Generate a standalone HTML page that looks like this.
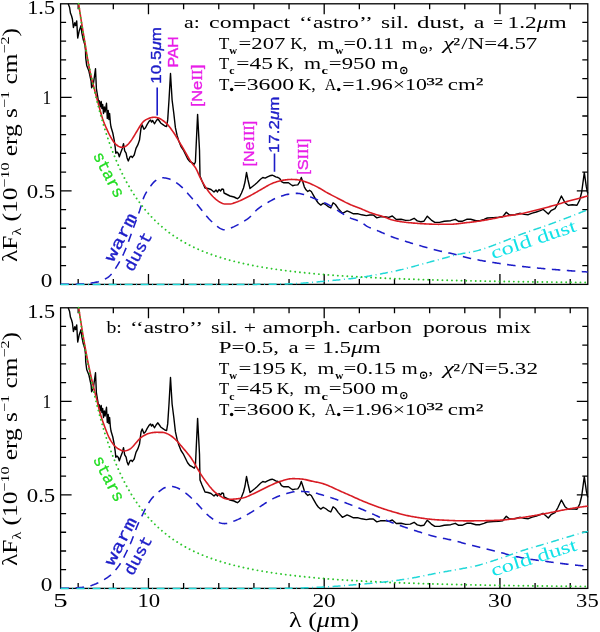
<!DOCTYPE html>
<html><head><meta charset="utf-8"><style>html,body{margin:0;padding:0;background:#fff;overflow:hidden}svg{display:block;will-change:transform}</style></head>
<body><svg width="600" height="632" viewBox="0 0 600 632">
<rect width="600" height="632" fill="#fff"/>
<rect x="60.6" y="3.8" width="527.20" height="280.60" fill="none" stroke="#000" stroke-width="1.3"/>
<path d="M78.17,284.4V278.9M78.17,3.8V9.3M113.32,284.4V278.9M113.32,3.8V9.3M148.47,284.4V273.9M148.47,3.8V14.3M183.61,284.4V278.9M183.61,3.8V9.3M218.76,284.4V278.9M218.76,3.8V9.3M253.91,284.4V278.9M253.91,3.8V9.3M289.05,284.4V278.9M289.05,3.8V9.3M324.20,284.4V273.9M324.20,3.8V14.3M359.35,284.4V278.9M359.35,3.8V9.3M394.49,284.4V278.9M394.49,3.8V9.3M429.64,284.4V278.9M429.64,3.8V9.3M464.79,284.4V278.9M464.79,3.8V9.3M499.93,284.4V273.9M499.93,3.8V14.3M535.08,284.4V278.9M535.08,3.8V9.3M570.23,284.4V278.9M570.23,3.8V9.3M60.6,265.69H66.1M587.8,265.69H582.3M60.6,246.98H66.1M587.8,246.98H582.3M60.6,228.27H66.1M587.8,228.27H582.3M60.6,209.56H66.1M587.8,209.56H582.3M60.6,190.85H71.6M587.8,190.85H576.8M60.6,172.14H66.1M587.8,172.14H582.3M60.6,153.43H66.1M587.8,153.43H582.3M60.6,134.72H66.1M587.8,134.72H582.3M60.6,116.01H66.1M587.8,116.01H582.3M60.6,97.30H71.6M587.8,97.30H576.8M60.6,78.59H66.1M587.8,78.59H582.3M60.6,59.88H66.1M587.8,59.88H582.3M60.6,41.17H66.1M587.8,41.17H582.3M60.6,22.46H66.1M587.8,22.46H582.3" stroke="#000" stroke-width="1.3" fill="none"/>
<rect x="60.6" y="307.8" width="527.20" height="280.60" fill="none" stroke="#000" stroke-width="1.3"/>
<path d="M78.17,588.4V582.9M78.17,307.8V313.3M113.32,588.4V582.9M113.32,307.8V313.3M148.47,588.4V577.9M148.47,307.8V318.3M183.61,588.4V582.9M183.61,307.8V313.3M218.76,588.4V582.9M218.76,307.8V313.3M253.91,588.4V582.9M253.91,307.8V313.3M289.05,588.4V582.9M289.05,307.8V313.3M324.20,588.4V577.9M324.20,307.8V318.3M359.35,588.4V582.9M359.35,307.8V313.3M394.49,588.4V582.9M394.49,307.8V313.3M429.64,588.4V582.9M429.64,307.8V313.3M464.79,588.4V582.9M464.79,307.8V313.3M499.93,588.4V577.9M499.93,307.8V318.3M535.08,588.4V582.9M535.08,307.8V313.3M570.23,588.4V582.9M570.23,307.8V313.3M60.6,569.69H66.1M587.8,569.69H582.3M60.6,550.98H66.1M587.8,550.98H582.3M60.6,532.27H66.1M587.8,532.27H582.3M60.6,513.56H66.1M587.8,513.56H582.3M60.6,494.85H71.6M587.8,494.85H576.8M60.6,476.14H66.1M587.8,476.14H582.3M60.6,457.43H66.1M587.8,457.43H582.3M60.6,438.72H66.1M587.8,438.72H582.3M60.6,420.01H66.1M587.8,420.01H582.3M60.6,401.30H71.6M587.8,401.30H576.8M60.6,382.59H66.1M587.8,382.59H582.3M60.6,363.88H66.1M587.8,363.88H582.3M60.6,345.17H66.1M587.8,345.17H582.3M60.6,326.46H66.1M587.8,326.46H582.3" stroke="#000" stroke-width="1.3" fill="none"/>
<path d="M68.20,3.80 L69.60,7.60 L70.50,13.30 L71.50,15.70 L72.40,19.00 L73.40,27.50 L74.80,22.80 L75.60,25.50 L76.70,20.90 L77.70,38.00 L79.10,31.30 L81.00,25.60 L81.90,33.20 L83.30,39.80 L84.80,44.60 L85.50,50.00 L85.70,57.70 L86.70,65.50 L88.90,71.00 L91.10,81.00 L91.60,87.70 L93.30,84.30 L95.50,68.80 L96.40,88.80 L97.70,96.50 L98.60,102.10 L99.40,100.80 L100.30,106.90 L101.20,101.50 L101.90,108.50 L102.70,104.50 L103.50,113.50 L104.30,107.00 L105.10,112.00 L106.50,103.30 L107.30,118.50 L108.20,110.50 L108.90,119.50 L109.60,113.50 L110.40,123.00 L111.00,127.00 L112.80,133.00 L114.20,140.10 L115.20,147.30 L115.80,153.20 L117.00,152.00 L118.20,153.20 L119.30,156.80 L120.50,153.20 L122.30,148.40 L123.50,143.70 L124.70,150.80 L126.10,153.20 L127.10,158.00 L128.30,160.90 L130.00,156.80 L131.20,156.20 L132.40,157.40 L134.20,155.00 L136.00,148.40 L137.80,144.90 L139.50,140.10 L140.70,130.60 L141.10,127.70 L142.20,124.90 L143.90,129.30 L145.50,127.70 L147.20,124.40 L148.90,121.60 L150.50,119.90 L151.60,122.10 L152.70,120.50 L154.40,123.80 L156.10,121.00 L157.70,118.80 L159.40,121.00 L161.00,123.30 L163.30,124.90 L164.90,126.00 L166.60,126.60 L167.70,119.90 L169.00,100.00 L170.50,73.50 L172.10,100.00 L173.80,113.30 L175.40,127.70 L177.10,135.40 L178.80,141.00 L181.00,146.50 L183.20,149.80 L185.40,154.30 L187.60,158.70 L189.80,161.50 L192.00,162.60 L194.30,164.20 L195.40,162.00 L197.60,114.40 L199.50,150.00 L200.00,176.00 L202.00,181.00 L205.00,188.00 L208.00,188.50 L211.00,189.50 L214.00,192.00 L216.00,190.00 L217.50,192.00 L219.00,189.50 L220.50,191.00 L222.00,189.00 L223.50,189.50 L224.00,193.00 L227.00,194.50 L230.00,196.00 L232.00,196.50 L234.00,197.00 L236.00,198.00 L237.50,198.70 L239.50,197.00 L241.50,193.00 L243.50,188.00 L245.00,182.00 L246.50,172.50 L248.00,180.00 L250.00,188.50 L252.50,186.50 L255.00,184.50 L257.00,182.80 L260.50,179.30 L262.80,177.50 L265.20,178.10 L267.50,176.90 L269.80,175.80 L272.20,175.20 L273.90,175.80 L275.70,176.90 L278.00,177.50 L279.80,178.70 L281.50,181.60 L283.80,182.80 L286.20,182.80 L288.50,182.80 L290.80,184.50 L292.60,185.70 L294.90,185.10 L297.80,184.90 L299.60,182.20 L301.30,177.50 L303.10,182.80 L304.30,186.80 L306.00,189.80 L307.80,191.50 L309.50,190.30 L311.30,191.50 L313.60,195.60 L315.90,199.70 L316.80,201.00 L318.50,203.30 L320.80,205.10 L323.20,203.30 L325.50,204.50 L327.80,206.30 L330.80,208.00 L333.10,202.80 L335.40,204.50 L338.30,208.60 L342.40,213.30 L344.80,212.10 L347.10,210.90 L350.00,212.10 L353.50,213.80 L358.20,213.80 L361.70,214.80 L366.30,215.60 L369.80,215.00 L373.30,215.00 L376.80,217.90 L380.30,216.80 L384.70,216.60 L388.80,217.40 L392.30,216.00 L396.30,219.50 L401.00,219.30 L405.70,220.40 L410.30,220.10 L414.10,218.30 L417.30,220.90 L420.80,221.80 L423.80,221.30 L427.30,216.20 L431.30,220.10 L434.80,222.40 L439.50,222.40 L444.20,221.30 L450.70,220.70 L455.30,219.30 L458.70,221.30 L462.00,221.30 L466.70,219.30 L470.70,219.30 L476.00,220.70 L480.00,220.70 L484.00,219.30 L487.30,218.00 L493.30,217.60 L498.70,217.30 L502.70,216.70 L506.30,212.30 L509.30,214.90 L514.70,214.70 L520.30,213.30 L524.30,214.40 L528.30,214.70 L532.30,213.10 L536.30,212.00 L540.30,210.70 L543.00,209.30 L548.30,214.00 L551.00,210.70 L555.00,208.70 L557.70,204.00 L561.40,196.00 L565.00,202.70 L568.30,205.30 L572.30,204.70 L577.00,205.30 L579.70,200.00 L581.70,192.00 L584.30,172.70 L586.30,186.70 L587.70,193.30" fill="none" stroke="#000" stroke-width="1.4" stroke-linejoin="round"/>
<path d="M78.65,3.80 L79.60,10.24 L80.60,16.73 L81.60,22.91 L82.60,28.98 L83.60,34.99 L84.60,40.94 L85.60,47.00 L86.60,53.21 L87.60,59.24 L88.60,64.76 L89.60,69.71 L90.60,74.23 L91.60,78.42 L92.60,82.38 L93.60,86.21 L94.60,89.94 L95.60,93.61 L96.60,97.31 L97.60,101.05 L98.60,104.79 L99.60,108.46 L100.60,112.02 L101.60,115.45 L102.60,118.65 L103.60,121.53 L104.60,124.10 L105.60,126.45 L106.60,128.69 L107.60,130.87 L108.60,132.98 L109.60,135.00 L110.60,136.89 L111.60,138.66 L112.60,140.28 L113.60,141.72 L114.60,142.98 L115.60,144.07 L116.60,145.00 L117.60,145.76 L118.60,146.37 L119.60,146.85 L120.60,147.15 L121.60,147.25 L122.60,147.22 L123.60,147.07 L124.60,146.78 L125.60,146.28 L126.60,145.57 L127.60,144.70 L128.60,143.71 L129.60,142.57 L130.60,141.26 L131.60,139.84 L132.60,138.34 L133.60,136.77 L134.60,135.13 L135.60,133.43 L136.60,131.73 L137.60,130.06 L138.60,128.41 L139.60,126.77 L140.60,125.16 L141.60,123.69 L142.60,122.44 L143.60,121.42 L144.60,120.59 L145.60,119.92 L146.60,119.36 L147.60,118.89 L148.60,118.47 L149.60,118.12 L150.60,117.82 L151.60,117.58 L152.60,117.39 L153.60,117.27 L154.60,117.24 L155.60,117.33 L156.60,117.50 L157.60,117.74 L158.60,118.08 L159.60,118.52 L160.60,119.06 L161.60,119.66 L162.60,120.31 L163.60,121.01 L164.60,121.77 L165.60,122.61 L166.60,123.54 L167.60,124.58 L168.60,125.75 L169.60,127.01 L170.60,128.32 L171.60,129.68 L172.60,131.09 L173.60,132.55 L174.60,134.06 L175.60,135.63 L176.60,137.25 L177.60,138.92 L178.60,140.62 L179.60,142.33 L180.60,144.04 L181.60,145.74 L182.60,147.46 L183.60,149.19 L184.60,150.94 L185.60,152.71 L186.60,154.49 L187.60,156.24 L188.60,157.93 L189.60,159.56 L190.60,161.14 L191.60,162.63 L192.60,164.00 L193.60,165.23 L194.60,166.44 L195.60,167.91 L196.60,169.77 L197.60,171.95 L198.60,174.23 L199.60,176.42 L200.60,178.45 L201.60,180.34 L202.60,182.15 L203.60,183.89 L204.60,185.56 L205.60,187.15 L206.60,188.67 L207.60,190.13 L208.60,191.51 L209.60,192.80 L210.60,194.00 L211.60,195.14 L212.60,196.20 L213.60,197.21 L214.60,198.15 L215.60,199.05 L216.60,199.90 L217.60,200.71 L218.60,201.43 L219.60,202.05 L220.60,202.58 L221.60,203.05 L222.60,203.45 L223.60,203.75 L224.60,203.95 L225.60,204.04 L226.60,204.07 L227.60,204.07 L228.60,204.06 L229.60,204.03 L230.60,203.93 L231.60,203.75 L232.60,203.47 L233.60,203.13 L234.60,202.77 L235.60,202.42 L236.60,202.06 L237.60,201.69 L238.60,201.29 L239.60,200.88 L240.60,200.44 L241.60,199.98 L242.60,199.50 L243.60,199.01 L244.60,198.51 L245.60,198.02 L246.60,197.52 L247.60,197.02 L248.60,196.51 L249.60,195.99 L250.60,195.46 L251.60,194.92 L252.60,194.37 L253.60,193.81 L254.60,193.24 L255.60,192.66 L256.60,192.07 L257.60,191.48 L258.60,190.90 L259.60,190.32 L260.60,189.75 L261.60,189.19 L262.60,188.62 L263.60,188.05 L264.60,187.46 L265.60,186.88 L266.60,186.29 L267.60,185.72 L268.60,185.16 L269.60,184.62 L270.60,184.12 L271.60,183.65 L272.60,183.23 L273.60,182.85 L274.60,182.50 L275.60,182.17 L276.60,181.85 L277.60,181.55 L278.60,181.27 L279.60,181.01 L280.60,180.76 L281.60,180.54 L282.60,180.34 L283.60,180.16 L284.60,180.01 L285.60,179.87 L286.60,179.74 L287.60,179.63 L288.60,179.54 L289.60,179.47 L290.60,179.43 L291.60,179.42 L292.60,179.44 L293.60,179.47 L294.60,179.52 L295.60,179.58 L296.60,179.66 L297.60,179.77 L298.60,179.92 L299.60,180.11 L300.60,180.34 L301.60,180.60 L302.60,180.89 L303.60,181.20 L304.60,181.53 L305.60,181.88 L306.60,182.23 L307.60,182.60 L308.60,182.97 L309.60,183.35 L310.60,183.76 L311.60,184.20 L312.60,184.65 L313.60,185.12 L314.60,185.61 L315.60,186.11 L316.60,186.63 L317.60,187.15 L318.60,187.67 L319.60,188.21 L320.60,188.77 L321.60,189.36 L322.60,189.97 L323.60,190.60 L324.60,191.23 L325.60,191.85 L326.60,192.43 L327.60,192.99 L328.60,193.53 L329.60,194.06 L330.60,194.58 L331.60,195.10 L332.60,195.61 L333.60,196.12 L334.60,196.64 L335.60,197.15 L336.60,197.66 L337.60,198.18 L338.60,198.70 L339.60,199.22 L340.60,199.75 L341.60,200.27 L342.60,200.80 L343.60,201.32 L344.60,201.84 L345.60,202.35 L346.60,202.85 L347.60,203.34 L348.60,203.81 L349.60,204.26 L350.60,204.70 L351.60,205.12 L352.60,205.52 L353.60,205.91 L354.60,206.29 L355.60,206.67 L356.60,207.04 L357.60,207.42 L358.60,207.80 L359.60,208.19 L360.60,208.59 L361.60,209.01 L362.60,209.44 L363.60,209.88 L364.60,210.32 L365.60,210.76 L366.60,211.19 L367.60,211.60 L368.60,212.01 L369.60,212.39 L370.60,212.76 L371.60,213.12 L372.60,213.46 L373.60,213.79 L374.60,214.10 L375.60,214.40 L376.60,214.69 L377.60,214.97 L378.60,215.25 L379.60,215.53 L380.60,215.81 L381.60,216.10 L382.60,216.40 L383.60,216.71 L384.60,217.04 L385.60,217.40 L386.60,217.80 L387.60,218.22 L388.60,218.65 L389.60,219.06 L390.60,219.43 L391.60,219.76 L392.60,220.03 L393.60,220.29 L394.60,220.52 L395.60,220.74 L396.60,220.94 L397.60,221.14 L398.60,221.32 L399.60,221.49 L400.60,221.65 L401.60,221.80 L402.60,221.94 L403.60,222.07 L404.60,222.20 L405.60,222.32 L406.60,222.43 L407.60,222.53 L408.60,222.64 L409.60,222.73 L410.60,222.82 L411.60,222.91 L412.60,222.99 L413.60,223.08 L414.60,223.15 L415.60,223.23 L416.60,223.31 L417.60,223.38 L418.60,223.46 L419.60,223.53 L420.60,223.60 L421.60,223.66 L422.60,223.73 L423.60,223.79 L424.60,223.84 L425.60,223.90 L426.60,223.95 L427.60,223.99 L428.60,224.04 L429.60,224.09 L430.60,224.13 L431.60,224.17 L432.60,224.21 L433.60,224.25 L434.60,224.28 L435.60,224.30 L436.60,224.31 L437.60,224.32 L438.60,224.33 L439.60,224.32 L440.60,224.32 L441.60,224.32 L442.60,224.31 L443.60,224.31 L444.60,224.30 L445.60,224.29 L446.60,224.29 L447.60,224.28 L448.60,224.28 L449.60,224.27 L450.60,224.26 L451.60,224.23 L452.60,224.18 L453.60,224.12 L454.60,224.04 L455.60,223.95 L456.60,223.85 L457.60,223.73 L458.60,223.62 L459.60,223.49 L460.60,223.36 L461.60,223.24 L462.60,223.11 L463.60,222.99 L464.60,222.87 L465.60,222.75 L466.60,222.65 L467.60,222.54 L468.60,222.44 L469.60,222.33 L470.60,222.22 L471.60,222.11 L472.60,221.99 L473.60,221.86 L474.60,221.74 L475.60,221.60 L476.60,221.46 L477.60,221.32 L478.60,221.18 L479.60,221.03 L480.60,220.87 L481.60,220.71 L482.60,220.55 L483.60,220.38 L484.60,220.21 L485.60,220.03 L486.60,219.85 L487.60,219.67 L488.60,219.49 L489.60,219.30 L490.60,219.12 L491.60,218.93 L492.60,218.74 L493.60,218.55 L494.60,218.36 L495.60,218.16 L496.60,217.95 L497.60,217.75 L498.60,217.54 L499.60,217.34 L500.60,217.13 L501.60,216.92 L502.60,216.72 L503.60,216.53 L504.60,216.34 L505.60,216.15 L506.60,215.98 L507.60,215.81 L508.60,215.66 L509.60,215.51 L510.60,215.37 L511.60,215.23 L512.60,215.09 L513.60,214.96 L514.60,214.82 L515.60,214.68 L516.60,214.54 L517.60,214.38 L518.60,214.22 L519.60,214.05 L520.60,213.86 L521.60,213.65 L522.60,213.42 L523.60,213.17 L524.60,212.92 L525.60,212.67 L526.60,212.41 L527.60,212.16 L528.60,211.91 L529.60,211.67 L530.60,211.43 L531.60,211.19 L532.60,210.95 L533.60,210.71 L534.60,210.47 L535.60,210.22 L536.60,209.98 L537.60,209.74 L538.60,209.49 L539.60,209.24 L540.60,208.99 L541.60,208.74 L542.60,208.48 L543.60,208.22 L544.60,207.96 L545.60,207.70 L546.60,207.44 L547.60,207.17 L548.60,206.90 L549.60,206.63 L550.60,206.36 L551.60,206.08 L552.60,205.81 L553.60,205.53 L554.60,205.24 L555.60,204.96 L556.60,204.67 L557.60,204.37 L558.60,204.07 L559.60,203.76 L560.60,203.46 L561.60,203.15 L562.60,202.84 L563.60,202.54 L564.60,202.24 L565.60,201.94 L566.60,201.64 L567.60,201.36 L568.60,201.08 L569.60,200.80 L570.60,200.53 L571.60,200.27 L572.60,200.01 L573.60,199.75 L574.60,199.50 L575.60,199.24 L576.60,198.99 L577.60,198.73 L578.60,198.47 L579.60,198.21 L580.60,197.94 L581.60,197.67 L582.60,197.39 L583.60,197.11 L584.60,196.82 L585.60,196.54 L586.60,196.27 L587.60,196.05 L587.80,195.94" fill="none" stroke="#d81c24" stroke-width="1.6"/>
<path d="M60.60,284.30 L61.60,284.30 L62.60,284.30 L63.60,284.29 L64.60,284.29 L65.60,284.28 L66.60,284.28 L67.60,284.27 L68.60,284.26 L69.60,284.25 L70.60,284.24 L71.60,284.23 L72.60,284.22 L73.60,284.21 L74.60,284.19 L75.60,284.18 L76.60,284.16 L77.60,284.14 L78.60,284.12 L79.60,284.10 L80.60,284.07 L81.60,284.04 L82.60,283.99 L83.60,283.92 L84.60,283.85 L85.60,283.76 L86.60,283.66 L87.60,283.55 L88.60,283.43 L89.60,283.30 L90.60,283.16 L91.60,283.01 L92.60,282.85 L93.60,282.69 L94.60,282.51 L95.60,282.33 L96.60,282.13 L97.60,281.91 L98.60,281.66 L99.60,281.36 L100.60,281.03 L101.60,280.65 L102.60,280.24 L103.60,279.80 L104.60,279.31 L105.60,278.79 L106.60,278.21 L107.60,277.56 L108.60,276.82 L109.60,275.99 L110.60,275.05 L111.60,273.98 L112.60,272.74 L113.60,271.36 L114.60,269.87 L115.60,268.30 L116.60,266.69 L117.60,265.04 L118.60,263.35 L119.60,261.59 L120.60,259.76 L121.60,257.85 L122.60,255.85 L123.60,253.74 L124.60,251.50 L125.60,249.13 L126.60,246.64 L127.60,244.04 L128.60,241.36 L129.60,238.60 L130.60,235.79 L131.60,232.95 L132.60,230.10 L133.60,227.28 L134.60,224.49 L135.60,221.75 L136.60,219.05 L137.60,216.38 L138.60,213.66 L139.60,210.74 L140.60,207.50 L141.60,204.06 L142.60,200.73 L143.60,197.84 L144.60,195.49 L145.60,193.54 L146.60,191.85 L147.60,190.30 L148.60,188.84 L149.60,187.45 L150.60,186.09 L151.60,184.77 L152.60,183.53 L153.60,182.40 L154.60,181.43 L155.60,180.61 L156.60,179.90 L157.60,179.29 L158.60,178.76 L159.60,178.32 L160.60,177.99 L161.60,177.80 L162.60,177.74 L163.60,177.80 L164.60,177.92 L165.60,178.08 L166.60,178.28 L167.60,178.50 L168.60,178.76 L169.60,179.07 L170.60,179.44 L171.60,179.88 L172.60,180.38 L173.60,180.95 L174.60,181.57 L175.60,182.23 L176.60,182.94 L177.60,183.67 L178.60,184.43 L179.60,185.22 L180.60,186.06 L181.60,186.94 L182.60,187.89 L183.60,188.89 L184.60,189.94 L185.60,191.03 L186.60,192.14 L187.60,193.27 L188.60,194.41 L189.60,195.55 L190.60,196.70 L191.60,197.85 L192.60,199.03 L193.60,200.22 L194.60,201.42 L195.60,202.64 L196.60,203.86 L197.60,205.08 L198.60,206.30 L199.60,207.52 L200.60,208.74 L201.60,209.98 L202.60,211.22 L203.60,212.47 L204.60,213.72 L205.60,214.95 L206.60,216.16 L207.60,217.33 L208.60,218.45 L209.60,219.52 L210.60,220.53 L211.60,221.49 L212.60,222.41 L213.60,223.30 L214.60,224.17 L215.60,225.03 L216.60,225.87 L217.60,226.68 L218.60,227.42 L219.60,228.06 L220.60,228.60 L221.60,229.05 L222.60,229.41 L223.60,229.67 L224.60,229.79 L225.60,229.77 L226.60,229.60 L227.60,229.32 L228.60,228.96 L229.60,228.57 L230.60,228.16 L231.60,227.74 L232.60,227.31 L233.60,226.87 L234.60,226.40 L235.60,225.91 L236.60,225.41 L237.60,224.89 L238.60,224.35 L239.60,223.81 L240.60,223.25 L241.60,222.68 L242.60,222.10 L243.60,221.49 L244.60,220.87 L245.60,220.22 L246.60,219.53 L247.60,218.82 L248.60,218.06 L249.60,217.24 L250.60,216.33 L251.60,215.34 L252.60,214.26 L253.60,213.14 L254.60,212.02 L255.60,210.96 L256.60,209.98 L257.60,209.10 L258.60,208.29 L259.60,207.54 L260.60,206.83 L261.60,206.16 L262.60,205.51 L263.60,204.89 L264.60,204.29 L265.60,203.70 L266.60,203.12 L267.60,202.55 L268.60,201.98 L269.60,201.42 L270.60,200.86 L271.60,200.31 L272.60,199.78 L273.60,199.26 L274.60,198.77 L275.60,198.29 L276.60,197.85 L277.60,197.43 L278.60,197.04 L279.60,196.68 L280.60,196.34 L281.60,196.01 L282.60,195.70 L283.60,195.40 L284.60,195.11 L285.60,194.85 L286.60,194.60 L287.60,194.37 L288.60,194.17 L289.60,194.00 L290.60,193.85 L291.60,193.71 L292.60,193.60 L293.60,193.50 L294.60,193.42 L295.60,193.37 L296.60,193.36 L297.60,193.39 L298.60,193.47 L299.60,193.60 L300.60,193.76 L301.60,193.94 L302.60,194.16 L303.60,194.41 L304.60,194.69 L305.60,195.02 L306.60,195.38 L307.60,195.76 L308.60,196.15 L309.60,196.55 L310.60,196.96 L311.60,197.38 L312.60,197.80 L313.60,198.23 L314.60,198.66 L315.60,199.07 L316.60,199.48 L317.60,199.88 L318.60,200.28 L319.60,200.69 L320.60,201.10 L321.60,201.52 L322.60,201.95 L323.60,202.39 L324.60,202.84 L325.60,203.30 L326.60,203.77 L327.60,204.26 L328.60,204.77 L329.60,205.31 L330.60,205.87 L331.60,206.47 L332.60,207.10 L333.60,207.75 L334.60,208.42 L335.60,209.10 L336.60,209.77 L337.60,210.43 L338.60,211.08 L339.60,211.73 L340.60,212.38 L341.60,213.02 L342.60,213.67 L343.60,214.30 L344.60,214.92 L345.60,215.53 L346.60,216.11 L347.60,216.67 L348.60,217.19 L349.60,217.67 L350.60,218.11 L351.60,218.51 L352.60,218.87 L353.60,219.21 L354.60,219.53 L355.60,219.86 L356.60,220.19 L357.60,220.55 L358.60,220.95 L359.60,221.40 L360.60,221.93 L361.60,222.55 L362.60,223.24 L363.60,223.98 L364.60,224.72 L365.60,225.43 L366.60,226.08 L367.60,226.65 L368.60,227.15 L369.60,227.58 L370.60,227.98 L371.60,228.35 L372.60,228.72 L373.60,229.09 L374.60,229.46 L375.60,229.86 L376.60,230.27 L377.60,230.68 L378.60,231.11 L379.60,231.54 L380.60,231.98 L381.60,232.42 L382.60,232.86 L383.60,233.30 L384.60,233.74 L385.60,234.17 L386.60,234.61 L387.60,235.03 L388.60,235.45 L389.60,235.86 L390.60,236.27 L391.60,236.66 L392.60,237.04 L393.60,237.41 L394.60,237.77 L395.60,238.12 L396.60,238.46 L397.60,238.80 L398.60,239.14 L399.60,239.46 L400.60,239.79 L401.60,240.11 L402.60,240.42 L403.60,240.74 L404.60,241.05 L405.60,241.36 L406.60,241.67 L407.60,241.98 L408.60,242.29 L409.60,242.60 L410.60,242.90 L411.60,243.21 L412.60,243.50 L413.60,243.80 L414.60,244.10 L415.60,244.39 L416.60,244.69 L417.60,244.98 L418.60,245.27 L419.60,245.55 L420.60,245.84 L421.60,246.13 L422.60,246.42 L423.60,246.70 L424.60,246.99 L425.60,247.28 L426.60,247.56 L427.60,247.85 L428.60,248.13 L429.60,248.41 L430.60,248.68 L431.60,248.96 L432.60,249.22 L433.60,249.49 L434.60,249.74 L435.60,249.99 L436.60,250.24 L437.60,250.48 L438.60,250.71 L439.60,250.93 L440.60,251.15 L441.60,251.37 L442.60,251.59 L443.60,251.80 L444.60,252.01 L445.60,252.23 L446.60,252.44 L447.60,252.66 L448.60,252.89 L449.60,253.11 L450.60,253.35 L451.60,253.59 L452.60,253.83 L453.60,254.08 L454.60,254.33 L455.60,254.59 L456.60,254.85 L457.60,255.11 L458.60,255.37 L459.60,255.63 L460.60,255.90 L461.60,256.16 L462.60,256.42 L463.60,256.68 L464.60,256.94 L465.60,257.20 L466.60,257.45 L467.60,257.70 L468.60,257.94 L469.60,258.18 L470.60,258.41 L471.60,258.64 L472.60,258.86 L473.60,259.07 L474.60,259.27 L475.60,259.47 L476.60,259.67 L477.60,259.86 L478.60,260.05 L479.60,260.24 L480.60,260.42 L481.60,260.60 L482.60,260.78 L483.60,260.95 L484.60,261.13 L485.60,261.30 L486.60,261.47 L487.60,261.63 L488.60,261.80 L489.60,261.96 L490.60,262.12 L491.60,262.28 L492.60,262.43 L493.60,262.59 L494.60,262.74 L495.60,262.89 L496.60,263.04 L497.60,263.19 L498.60,263.34 L499.60,263.49 L500.60,263.64 L501.60,263.78 L502.60,263.93 L503.60,264.07 L504.60,264.21 L505.60,264.35 L506.60,264.49 L507.60,264.63 L508.60,264.76 L509.60,264.90 L510.60,265.03 L511.60,265.16 L512.60,265.29 L513.60,265.42 L514.60,265.55 L515.60,265.68 L516.60,265.80 L517.60,265.92 L518.60,266.04 L519.60,266.16 L520.60,266.28 L521.60,266.40 L522.60,266.51 L523.60,266.62 L524.60,266.73 L525.60,266.84 L526.60,266.95 L527.60,267.06 L528.60,267.16 L529.60,267.27 L530.60,267.37 L531.60,267.48 L532.60,267.58 L533.60,267.68 L534.60,267.78 L535.60,267.87 L536.60,267.97 L537.60,268.07 L538.60,268.16 L539.60,268.26 L540.60,268.35 L541.60,268.44 L542.60,268.53 L543.60,268.62 L544.60,268.71 L545.60,268.80 L546.60,268.89 L547.60,268.98 L548.60,269.06 L549.60,269.15 L550.60,269.23 L551.60,269.32 L552.60,269.40 L553.60,269.48 L554.60,269.56 L555.60,269.64 L556.60,269.72 L557.60,269.80 L558.60,269.88 L559.60,269.96 L560.60,270.03 L561.60,270.11 L562.60,270.19 L563.60,270.26 L564.60,270.34 L565.60,270.41 L566.60,270.49 L567.60,270.56 L568.60,270.64 L569.60,270.71 L570.60,270.78 L571.60,270.86 L572.60,270.93 L573.60,271.01 L574.60,271.08 L575.60,271.15 L576.60,271.22 L577.60,271.30 L578.60,271.37 L579.60,271.44 L580.60,271.51 L581.60,271.58 L582.60,271.65 L583.60,271.72 L584.60,271.79 L585.60,271.85 L586.60,271.91 L587.60,271.96 L587.80,271.99" fill="none" stroke="#1c1cc8" stroke-width="1.55" stroke-dasharray="8.5 6.5"/>
<path d="M78.60,3.80 L78.60,3.83 L79.60,10.69 L80.60,17.33 L81.60,23.76 L82.60,29.99 L83.60,36.02 L84.60,41.86 L85.60,47.53 L86.60,53.02 L87.60,58.34 L88.60,63.50 L89.60,68.51 L90.60,73.37 L91.60,78.08 L92.60,82.66 L93.60,87.10 L94.60,91.41 L95.60,95.60 L96.60,99.67 L97.60,103.63 L98.60,107.47 L99.60,111.21 L100.60,114.84 L101.60,118.37 L102.60,121.80 L103.60,125.15 L104.60,128.40 L105.60,131.56 L106.60,134.64 L107.60,137.63 L108.60,140.55 L109.60,143.39 L110.60,146.16 L111.60,148.86 L112.60,151.48 L113.60,154.04 L114.60,156.54 L115.60,158.97 L116.60,161.34 L117.60,163.65 L118.60,165.90 L119.60,168.10 L120.60,170.25 L121.60,172.34 L122.60,174.38 L123.60,176.37 L124.60,178.32 L125.60,180.22 L126.60,182.07 L127.60,183.88 L128.60,185.65 L129.60,187.38 L130.60,189.06 L131.60,190.71 L132.60,192.32 L133.60,193.90 L134.60,195.43 L135.60,196.94 L136.60,198.41 L137.60,199.85 L138.60,201.25 L139.60,202.63 L140.60,203.97 L141.60,205.29 L142.60,206.57 L143.60,207.83 L144.60,209.07 L145.60,210.27 L146.60,211.45 L147.60,212.61 L148.60,213.74 L149.60,214.85 L150.60,215.93 L151.60,217.00 L152.60,218.04 L153.60,219.06 L154.60,220.06 L155.60,221.04 L156.60,221.99 L157.60,222.93 L158.60,223.85 L159.60,224.76 L160.60,225.64 L161.60,226.51 L162.60,227.36 L163.60,228.19 L164.60,229.01 L165.60,229.81 L166.60,230.60 L167.60,231.37 L168.60,232.13 L169.60,232.87 L170.60,233.60 L171.60,234.32 L172.60,235.02 L173.60,235.71 L174.60,236.38 L175.60,237.05 L176.60,237.70 L177.60,238.34 L178.60,238.97 L179.60,239.58 L180.60,240.19 L181.60,240.78 L182.60,241.37 L183.60,241.94 L184.60,242.51 L185.60,243.06 L186.60,243.60 L187.60,244.14 L188.60,244.66 L189.60,245.18 L190.60,245.69 L191.60,246.18 L192.60,246.67 L193.60,247.16 L194.60,247.63 L195.60,248.10 L196.60,248.55 L197.60,249.00 L198.60,249.45 L199.60,249.88 L200.60,250.31 L201.60,250.73 L202.60,251.15 L203.60,251.55 L204.60,251.95 L205.60,252.35 L206.60,252.74 L207.60,253.12 L208.60,253.49 L209.60,253.86 L210.60,254.23 L211.60,254.58 L212.60,254.94 L213.60,255.28 L214.60,255.63 L215.60,255.96 L216.60,256.29 L217.60,256.62 L218.60,256.94 L219.60,257.26 L220.60,257.57 L221.60,257.87 L222.60,258.17 L223.60,258.47 L224.60,258.76 L225.60,259.05 L226.60,259.34 L227.60,259.62 L228.60,259.89 L229.60,260.16 L230.60,260.43 L231.60,260.69 L232.60,260.95 L233.60,261.21 L234.60,261.46 L235.60,261.71 L236.60,261.96 L237.60,262.20 L238.60,262.44 L239.60,262.67 L240.60,262.90 L241.60,263.13 L242.60,263.36 L243.60,263.58 L244.60,263.80 L245.60,264.01 L246.60,264.22 L247.60,264.43 L248.60,264.64 L249.60,264.84 L250.60,265.05 L251.60,265.24 L252.60,265.44 L253.60,265.63 L254.60,265.82 L255.60,266.01 L256.60,266.20 L257.60,266.38 L258.60,266.56 L259.60,266.74 L260.60,266.91 L261.60,267.09 L262.60,267.26 L263.60,267.43 L264.60,267.59 L265.60,267.76 L266.60,267.92 L267.60,268.08 L268.60,268.24 L269.60,268.40 L270.60,268.55 L271.60,268.70 L272.60,268.85 L273.60,269.00 L274.60,269.15 L275.60,269.29 L276.60,269.43 L277.60,269.57 L278.60,269.71 L279.60,269.85 L280.60,269.99 L281.60,270.12 L282.60,270.25 L283.60,270.38 L284.60,270.51 L285.60,270.64 L286.60,270.77 L287.60,270.89 L288.60,271.01 L289.60,271.14 L290.60,271.26 L291.60,271.37 L292.60,271.49 L293.60,271.61 L294.60,271.72 L295.60,271.84 L296.60,271.95 L297.60,272.06 L298.60,272.17 L299.60,272.27 L300.60,272.38 L301.60,272.49 L302.60,272.59 L303.60,272.69 L304.60,272.79 L305.60,272.90 L306.60,272.99 L307.60,273.09 L308.60,273.19 L309.60,273.29 L310.60,273.38 L311.60,273.47 L312.60,273.57 L313.60,273.66 L314.60,273.75 L315.60,273.84 L316.60,273.93 L317.60,274.02 L318.60,274.10 L319.60,274.19 L320.60,274.27 L321.60,274.36 L322.60,274.44 L323.60,274.52 L324.60,274.60 L325.60,274.68 L326.60,274.76 L327.60,274.84 L328.60,274.92 L329.60,274.99 L330.60,275.07 L331.60,275.15 L332.60,275.22 L333.60,275.29 L334.60,275.37 L335.60,275.44 L336.60,275.51 L337.60,275.58 L338.60,275.65 L339.60,275.72 L340.60,275.79 L341.60,275.86 L342.60,275.92 L343.60,275.99 L344.60,276.05 L345.60,276.12 L346.60,276.18 L347.60,276.25 L348.60,276.31 L349.60,276.37 L350.60,276.43 L351.60,276.49 L352.60,276.55 L353.60,276.61 L354.60,276.67 L355.60,276.73 L356.60,276.79 L357.60,276.85 L358.60,276.90 L359.60,276.96 L360.60,277.01 L361.60,277.07 L362.60,277.12 L363.60,277.18 L364.60,277.23 L365.60,277.28 L366.60,277.34 L367.60,277.39 L368.60,277.44 L369.60,277.49 L370.60,277.54 L371.60,277.59 L372.60,277.64 L373.60,277.69 L374.60,277.74 L375.60,277.79 L376.60,277.83 L377.60,277.88 L378.60,277.93 L379.60,277.97 L380.60,278.02 L381.60,278.07 L382.60,278.11 L383.60,278.15 L384.60,278.20 L385.60,278.24 L386.60,278.29 L387.60,278.33 L388.60,278.37 L389.60,278.41 L390.60,278.45 L391.60,278.50 L392.60,278.54 L393.60,278.58 L394.60,278.62 L395.60,278.66 L396.60,278.70 L397.60,278.74 L398.60,278.77 L399.60,278.81 L400.60,278.85 L401.60,278.89 L402.60,278.93 L403.60,278.96 L404.60,279.00 L405.60,279.04 L406.60,279.07 L407.60,279.11 L408.60,279.14 L409.60,279.18 L410.60,279.21 L411.60,279.25 L412.60,279.28 L413.60,279.31 L414.60,279.35 L415.60,279.38 L416.60,279.41 L417.60,279.45 L418.60,279.48 L419.60,279.51 L420.60,279.54 L421.60,279.57 L422.60,279.61 L423.60,279.64 L424.60,279.67 L425.60,279.70 L426.60,279.73 L427.60,279.76 L428.60,279.79 L429.60,279.82 L430.60,279.85 L431.60,279.88 L432.60,279.90 L433.60,279.93 L434.60,279.96 L435.60,279.99 L436.60,280.02 L437.60,280.04 L438.60,280.07 L439.60,280.10 L440.60,280.12 L441.60,280.15 L442.60,280.18 L443.60,280.20 L444.60,280.23 L445.60,280.26 L446.60,280.28 L447.60,280.31 L448.60,280.33 L449.60,280.36 L450.60,280.38 L451.60,280.41 L452.60,280.43 L453.60,280.45 L454.60,280.48 L455.60,280.50 L456.60,280.53 L457.60,280.55 L458.60,280.57 L459.60,280.59 L460.60,280.62 L461.60,280.64 L462.60,280.66 L463.60,280.68 L464.60,280.71 L465.60,280.73 L466.60,280.75 L467.60,280.77 L468.60,280.79 L469.60,280.81 L470.60,280.84 L471.60,280.86 L472.60,280.88 L473.60,280.90 L474.60,280.92 L475.60,280.94 L476.60,280.96 L477.60,280.98 L478.60,281.00 L479.60,281.02 L480.60,281.04 L481.60,281.06 L482.60,281.08 L483.60,281.09 L484.60,281.11 L485.60,281.13 L486.60,281.15 L487.60,281.17 L488.60,281.19 L489.60,281.21 L490.60,281.22 L491.60,281.24 L492.60,281.26 L493.60,281.28 L494.60,281.29 L495.60,281.31 L496.60,281.33 L497.60,281.35 L498.60,281.36 L499.60,281.38 L500.60,281.40 L501.60,281.41 L502.60,281.43 L503.60,281.45 L504.60,281.46 L505.60,281.48 L506.60,281.50 L507.60,281.51 L508.60,281.53 L509.60,281.54 L510.60,281.56 L511.60,281.57 L512.60,281.59 L513.60,281.60 L514.60,281.62 L515.60,281.63 L516.60,281.65 L517.60,281.66 L518.60,281.68 L519.60,281.69 L520.60,281.71 L521.60,281.72 L522.60,281.74 L523.60,281.75 L524.60,281.76 L525.60,281.78 L526.60,281.79 L527.60,281.81 L528.60,281.82 L529.60,281.83 L530.60,281.85 L531.60,281.86 L532.60,281.87 L533.60,281.89 L534.60,281.90 L535.60,281.91 L536.60,281.93 L537.60,281.94 L538.60,281.95 L539.60,281.96 L540.60,281.98 L541.60,281.99 L542.60,282.00 L543.60,282.01 L544.60,282.03 L545.60,282.04 L546.60,282.05 L547.60,282.06 L548.60,282.07 L549.60,282.09 L550.60,282.10 L551.60,282.11 L552.60,282.12 L553.60,282.13 L554.60,282.14 L555.60,282.16 L556.60,282.17 L557.60,282.18 L558.60,282.19 L559.60,282.20 L560.60,282.21 L561.60,282.22 L562.60,282.23 L563.60,282.24 L564.60,282.25 L565.60,282.26 L566.60,282.28 L567.60,282.29 L568.60,282.30 L569.60,282.31 L570.60,282.32 L571.60,282.33 L572.60,282.34 L573.60,282.35 L574.60,282.36 L575.60,282.37 L576.60,282.38 L577.60,282.39 L578.60,282.40 L579.60,282.41 L580.60,282.42 L581.60,282.43 L582.60,282.43 L583.60,282.44 L584.60,282.45 L585.60,282.46 L586.60,282.47 L587.60,282.48 L587.80,282.48" fill="none" stroke="#2cc62c" stroke-width="1.9" stroke-dasharray="0.01 4.75" stroke-linecap="round"/>
<path d="M60.60,284.40 L61.60,284.40 L62.60,284.40 L63.60,284.40 L64.60,284.40 L65.60,284.40 L66.60,284.40 L67.60,284.40 L68.60,284.40 L69.60,284.40 L70.60,284.40 L71.60,284.40 L72.60,284.40 L73.60,284.40 L74.60,284.40 L75.60,284.40 L76.60,284.40 L77.60,284.40 L78.60,284.40 L79.60,284.40 L80.60,284.40 L81.60,284.40 L82.60,284.40 L83.60,284.40 L84.60,284.40 L85.60,284.40 L86.60,284.40 L87.60,284.40 L88.60,284.40 L89.60,284.40 L90.60,284.40 L91.60,284.40 L92.60,284.40 L93.60,284.40 L94.60,284.40 L95.60,284.40 L96.60,284.40 L97.60,284.40 L98.60,284.40 L99.60,284.40 L100.60,284.40 L101.60,284.40 L102.60,284.40 L103.60,284.40 L104.60,284.40 L105.60,284.40 L106.60,284.40 L107.60,284.40 L108.60,284.40 L109.60,284.40 L110.60,284.40 L111.60,284.40 L112.60,284.40 L113.60,284.40 L114.60,284.40 L115.60,284.40 L116.60,284.40 L117.60,284.40 L118.60,284.40 L119.60,284.40 L120.60,284.40 L121.60,284.40 L122.60,284.40 L123.60,284.40 L124.60,284.40 L125.60,284.40 L126.60,284.40 L127.60,284.40 L128.60,284.40 L129.60,284.40 L130.60,284.40 L131.60,284.40 L132.60,284.40 L133.60,284.40 L134.60,284.40 L135.60,284.40 L136.60,284.40 L137.60,284.40 L138.60,284.40 L139.60,284.40 L140.60,284.40 L141.60,284.40 L142.60,284.40 L143.60,284.40 L144.60,284.40 L145.60,284.40 L146.60,284.40 L147.60,284.40 L148.60,284.40 L149.60,284.40 L150.60,284.40 L151.60,284.40 L152.60,284.40 L153.60,284.40 L154.60,284.40 L155.60,284.40 L156.60,284.40 L157.60,284.40 L158.60,284.40 L159.60,284.40 L160.60,284.40 L161.60,284.40 L162.60,284.40 L163.60,284.40 L164.60,284.40 L165.60,284.40 L166.60,284.40 L167.60,284.40 L168.60,284.40 L169.60,284.40 L170.60,284.40 L171.60,284.40 L172.60,284.40 L173.60,284.40 L174.60,284.40 L175.60,284.40 L176.60,284.40 L177.60,284.40 L178.60,284.40 L179.60,284.40 L180.60,284.40 L181.60,284.40 L182.60,284.40 L183.60,284.40 L184.60,284.40 L185.60,284.40 L186.60,284.40 L187.60,284.40 L188.60,284.40 L189.60,284.40 L190.60,284.40 L191.60,284.40 L192.60,284.40 L193.60,284.40 L194.60,284.40 L195.60,284.40 L196.60,284.40 L197.60,284.40 L198.60,284.40 L199.60,284.40 L200.60,284.40 L201.60,284.40 L202.60,284.40 L203.60,284.40 L204.60,284.40 L205.60,284.40 L206.60,284.40 L207.60,284.40 L208.60,284.40 L209.60,284.40 L210.60,284.40 L211.60,284.40 L212.60,284.40 L213.60,284.40 L214.60,284.40 L215.60,284.40 L216.60,284.40 L217.60,284.40 L218.60,284.40 L219.60,284.40 L220.60,284.40 L221.60,284.40 L222.60,284.40 L223.60,284.40 L224.60,284.40 L225.60,284.40 L226.60,284.40 L227.60,284.40 L228.60,284.40 L229.60,284.40 L230.60,284.40 L231.60,284.40 L232.60,284.40 L233.60,284.40 L234.60,284.40 L235.60,284.40 L236.60,284.40 L237.60,284.40 L238.60,284.40 L239.60,284.40 L240.60,284.40 L241.60,284.40 L242.60,284.40 L243.60,284.40 L244.60,284.40 L245.60,284.40 L246.60,284.40 L247.60,284.40 L248.60,284.40 L249.60,284.40 L250.60,284.40 L251.60,284.40 L252.60,284.40 L253.60,284.39 L254.60,284.39 L255.60,284.39 L256.60,284.38 L257.60,284.37 L258.60,284.37 L259.60,284.36 L260.60,284.35 L261.60,284.34 L262.60,284.34 L263.60,284.33 L264.60,284.32 L265.60,284.30 L266.60,284.29 L267.60,284.28 L268.60,284.27 L269.60,284.26 L270.60,284.24 L271.60,284.23 L272.60,284.21 L273.60,284.20 L274.60,284.19 L275.60,284.17 L276.60,284.15 L277.60,284.14 L278.60,284.12 L279.60,284.10 L280.60,284.08 L281.60,284.06 L282.60,284.04 L283.60,284.01 L284.60,283.99 L285.60,283.95 L286.60,283.92 L287.60,283.88 L288.60,283.85 L289.60,283.80 L290.60,283.76 L291.60,283.72 L292.60,283.67 L293.60,283.63 L294.60,283.58 L295.60,283.53 L296.60,283.48 L297.60,283.43 L298.60,283.37 L299.60,283.32 L300.60,283.26 L301.60,283.20 L302.60,283.14 L303.60,283.08 L304.60,283.01 L305.60,282.94 L306.60,282.87 L307.60,282.79 L308.60,282.71 L309.60,282.63 L310.60,282.55 L311.60,282.46 L312.60,282.37 L313.60,282.28 L314.60,282.19 L315.60,282.10 L316.60,282.01 L317.60,281.91 L318.60,281.81 L319.60,281.72 L320.60,281.62 L321.60,281.52 L322.60,281.42 L323.60,281.33 L324.60,281.23 L325.60,281.13 L326.60,281.03 L327.60,280.93 L328.60,280.84 L329.60,280.74 L330.60,280.64 L331.60,280.55 L332.60,280.45 L333.60,280.36 L334.60,280.26 L335.60,280.17 L336.60,280.07 L337.60,279.98 L338.60,279.88 L339.60,279.78 L340.60,279.68 L341.60,279.59 L342.60,279.49 L343.60,279.39 L344.60,279.28 L345.60,279.18 L346.60,279.08 L347.60,278.97 L348.60,278.87 L349.60,278.76 L350.60,278.65 L351.60,278.53 L352.60,278.42 L353.60,278.30 L354.60,278.18 L355.60,278.06 L356.60,277.94 L357.60,277.81 L358.60,277.68 L359.60,277.55 L360.60,277.41 L361.60,277.26 L362.60,277.12 L363.60,276.96 L364.60,276.80 L365.60,276.64 L366.60,276.47 L367.60,276.30 L368.60,276.13 L369.60,275.95 L370.60,275.77 L371.60,275.58 L372.60,275.40 L373.60,275.21 L374.60,275.02 L375.60,274.83 L376.60,274.64 L377.60,274.45 L378.60,274.26 L379.60,274.08 L380.60,273.89 L381.60,273.70 L382.60,273.51 L383.60,273.33 L384.60,273.14 L385.60,272.95 L386.60,272.76 L387.60,272.57 L388.60,272.37 L389.60,272.18 L390.60,271.98 L391.60,271.78 L392.60,271.58 L393.60,271.38 L394.60,271.17 L395.60,270.96 L396.60,270.74 L397.60,270.53 L398.60,270.31 L399.60,270.08 L400.60,269.85 L401.60,269.61 L402.60,269.37 L403.60,269.13 L404.60,268.87 L405.60,268.62 L406.60,268.36 L407.60,268.09 L408.60,267.82 L409.60,267.55 L410.60,267.28 L411.60,267.01 L412.60,266.73 L413.60,266.45 L414.60,266.18 L415.60,265.90 L416.60,265.63 L417.60,265.35 L418.60,265.08 L419.60,264.81 L420.60,264.54 L421.60,264.27 L422.60,264.00 L423.60,263.73 L424.60,263.46 L425.60,263.19 L426.60,262.92 L427.60,262.65 L428.60,262.38 L429.60,262.11 L430.60,261.84 L431.60,261.57 L432.60,261.30 L433.60,261.02 L434.60,260.75 L435.60,260.48 L436.60,260.21 L437.60,259.94 L438.60,259.67 L439.60,259.40 L440.60,259.13 L441.60,258.86 L442.60,258.58 L443.60,258.31 L444.60,258.03 L445.60,257.74 L446.60,257.46 L447.60,257.18 L448.60,256.90 L449.60,256.62 L450.60,256.34 L451.60,256.07 L452.60,255.80 L453.60,255.54 L454.60,255.28 L455.60,255.03 L456.60,254.79 L457.60,254.55 L458.60,254.32 L459.60,254.11 L460.60,253.90 L461.60,253.71 L462.60,253.52 L463.60,253.35 L464.60,253.18 L465.60,253.02 L466.60,252.85 L467.60,252.69 L468.60,252.53 L469.60,252.36 L470.60,252.19 L471.60,252.00 L472.60,251.81 L473.60,251.60 L474.60,251.38 L475.60,251.14 L476.60,250.89 L477.60,250.63 L478.60,250.35 L479.60,250.07 L480.60,249.77 L481.60,249.46 L482.60,249.14 L483.60,248.81 L484.60,248.48 L485.60,248.13 L486.60,247.78 L487.60,247.43 L488.60,247.07 L489.60,246.71 L490.60,246.34 L491.60,245.97 L492.60,245.61 L493.60,245.23 L494.60,244.86 L495.60,244.49 L496.60,244.12 L497.60,243.75 L498.60,243.38 L499.60,243.01 L500.60,242.63 L501.60,242.25 L502.60,241.86 L503.60,241.46 L504.60,241.06 L505.60,240.66 L506.60,240.25 L507.60,239.84 L508.60,239.42 L509.60,239.01 L510.60,238.59 L511.60,238.18 L512.60,237.76 L513.60,237.35 L514.60,236.93 L515.60,236.52 L516.60,236.12 L517.60,235.71 L518.60,235.31 L519.60,234.92 L520.60,234.53 L521.60,234.15 L522.60,233.77 L523.60,233.40 L524.60,233.04 L525.60,232.68 L526.60,232.32 L527.60,231.97 L528.60,231.62 L529.60,231.27 L530.60,230.93 L531.60,230.58 L532.60,230.24 L533.60,229.90 L534.60,229.56 L535.60,229.23 L536.60,228.89 L537.60,228.55 L538.60,228.21 L539.60,227.87 L540.60,227.53 L541.60,227.19 L542.60,226.84 L543.60,226.49 L544.60,226.14 L545.60,225.79 L546.60,225.43 L547.60,225.07 L548.60,224.71 L549.60,224.35 L550.60,223.98 L551.60,223.62 L552.60,223.25 L553.60,222.89 L554.60,222.52 L555.60,222.15 L556.60,221.78 L557.60,221.40 L558.60,221.03 L559.60,220.66 L560.60,220.28 L561.60,219.90 L562.60,219.53 L563.60,219.15 L564.60,218.77 L565.60,218.39 L566.60,218.01 L567.60,217.63 L568.60,217.24 L569.60,216.86 L570.60,216.47 L571.60,216.09 L572.60,215.70 L573.60,215.31 L574.60,214.92 L575.60,214.53 L576.60,214.14 L577.60,213.74 L578.60,213.35 L579.60,212.95 L580.60,212.55 L581.60,212.16 L582.60,211.76 L583.60,211.36 L584.60,210.97 L585.60,210.60 L586.60,210.28 L587.60,210.02 L587.80,209.85" fill="none" stroke="#22d8d8" stroke-width="1.5" stroke-dasharray="8 3.5 1 3.5"/>
<path d="M68.20,307.80 L69.60,311.60 L70.50,317.30 L71.50,319.70 L72.40,323.00 L73.40,331.50 L74.80,326.80 L75.60,329.50 L76.70,324.90 L77.70,342.00 L79.10,335.30 L81.00,329.60 L81.90,337.20 L83.30,343.80 L84.80,348.60 L85.50,354.00 L85.70,361.70 L86.70,369.50 L88.90,375.00 L91.10,385.00 L91.60,391.70 L93.30,388.30 L95.50,372.80 L96.40,392.80 L97.70,400.50 L98.60,406.10 L99.40,404.80 L100.30,410.90 L101.20,405.50 L101.90,412.50 L102.70,408.50 L103.50,417.50 L104.30,411.00 L105.10,416.00 L106.50,407.30 L107.30,422.50 L108.20,414.50 L108.90,423.50 L109.60,417.50 L110.40,427.00 L111.00,431.00 L112.80,437.00 L114.20,444.10 L115.20,451.30 L115.80,457.20 L117.00,456.00 L118.20,457.20 L119.30,460.80 L120.50,457.20 L122.30,452.40 L123.50,447.70 L124.70,454.80 L126.10,457.20 L127.10,462.00 L128.30,464.90 L130.00,460.80 L131.20,460.20 L132.40,461.40 L134.20,459.00 L136.00,452.40 L137.80,448.90 L139.50,444.10 L140.70,434.60 L141.10,431.70 L142.20,428.90 L143.90,433.30 L145.50,431.70 L147.20,428.40 L148.90,425.60 L150.50,423.90 L151.60,426.10 L152.70,424.50 L154.40,427.80 L156.10,425.00 L157.70,422.80 L159.40,425.00 L161.00,427.30 L163.30,428.90 L164.90,430.00 L166.60,430.60 L167.70,423.90 L169.00,404.00 L170.50,377.50 L172.10,404.00 L173.80,417.30 L175.40,431.70 L177.10,439.40 L178.80,445.00 L181.00,450.50 L183.20,453.80 L185.40,458.30 L187.60,462.70 L189.80,465.50 L192.00,466.60 L194.30,468.20 L195.40,466.00 L197.60,418.40 L199.50,454.00 L200.00,480.00 L202.00,485.00 L205.00,492.00 L208.00,492.50 L211.00,493.50 L214.00,496.00 L216.00,494.00 L217.50,496.00 L219.00,493.50 L220.50,495.00 L222.00,493.00 L223.50,493.50 L224.00,497.00 L227.00,498.50 L230.00,500.00 L232.00,500.50 L234.00,501.00 L236.00,502.00 L237.50,502.70 L239.50,501.00 L241.50,497.00 L243.50,492.00 L245.00,486.00 L246.50,476.50 L248.00,484.00 L250.00,492.50 L252.50,490.50 L255.00,488.50 L257.00,486.80 L260.50,483.30 L262.80,481.50 L265.20,482.10 L267.50,480.90 L269.80,479.80 L272.20,479.20 L273.90,479.80 L275.70,480.90 L278.00,481.50 L279.80,482.70 L281.50,485.60 L283.80,486.80 L286.20,486.80 L288.50,486.80 L290.80,488.50 L292.60,489.70 L294.90,489.10 L297.80,488.90 L299.60,486.20 L301.30,481.50 L303.10,486.80 L304.30,490.80 L306.00,493.80 L307.80,495.50 L309.50,494.30 L311.30,495.50 L313.60,499.60 L315.90,503.70 L316.80,505.00 L318.50,507.30 L320.80,509.10 L323.20,507.30 L325.50,508.50 L327.80,510.30 L330.80,512.00 L333.10,506.80 L335.40,508.50 L338.30,512.60 L342.40,517.30 L344.80,516.10 L347.10,514.90 L350.00,516.10 L353.50,517.80 L358.20,517.80 L361.70,518.80 L366.30,519.60 L369.80,519.00 L373.30,519.00 L376.80,521.90 L380.30,520.80 L384.70,520.60 L388.80,521.40 L392.30,520.00 L396.30,523.50 L401.00,523.30 L405.70,524.40 L410.30,524.10 L414.10,522.30 L417.30,524.90 L420.80,525.80 L423.80,525.30 L427.30,520.20 L431.30,524.10 L434.80,526.40 L439.50,526.40 L444.20,525.30 L450.70,524.70 L455.30,523.30 L458.70,525.30 L462.00,525.30 L466.70,523.30 L470.70,523.30 L476.00,524.70 L480.00,524.70 L484.00,523.30 L487.30,522.00 L493.30,521.60 L498.70,521.30 L502.70,520.70 L506.30,516.30 L509.30,518.90 L514.70,518.70 L520.30,517.30 L524.30,518.40 L528.30,518.70 L532.30,517.10 L536.30,516.00 L540.30,514.70 L543.00,513.30 L548.30,518.00 L551.00,514.70 L555.00,512.70 L557.70,508.00 L561.40,500.00 L565.00,506.70 L568.30,509.30 L572.30,508.70 L577.00,509.30 L579.70,504.00 L581.70,496.00 L584.30,476.70 L586.30,490.70 L587.70,497.30" fill="none" stroke="#000" stroke-width="1.4" stroke-linejoin="round"/>
<path d="M78.72,307.80 L79.60,313.79 L80.60,320.35 L81.60,326.69 L82.60,332.80 L83.60,338.70 L84.60,344.39 L85.60,349.89 L86.60,355.19 L87.60,360.31 L88.60,365.25 L89.60,370.01 L90.60,374.59 L91.60,379.00 L92.60,383.24 L93.60,387.33 L94.60,391.28 L95.60,395.08 L96.60,398.87 L97.60,402.98 L98.60,407.37 L99.60,411.31 L100.60,414.71 L101.60,417.87 L102.60,420.91 L103.60,423.81 L104.60,426.58 L105.60,429.24 L106.60,431.79 L107.60,434.23 L108.60,436.48 L109.60,438.51 L110.60,440.31 L111.60,441.93 L112.60,443.38 L113.60,444.67 L114.60,445.79 L115.60,446.76 L116.60,447.61 L117.60,448.36 L118.60,449.01 L119.60,449.57 L120.60,450.05 L121.60,450.45 L122.60,450.76 L123.60,450.94 L124.60,450.96 L125.60,450.83 L126.60,450.57 L127.60,450.20 L128.60,449.75 L129.60,449.23 L130.60,448.58 L131.60,447.76 L132.60,446.77 L133.60,445.67 L134.60,444.52 L135.60,443.35 L136.60,442.14 L137.60,440.94 L138.60,439.80 L139.60,438.78 L140.60,437.90 L141.60,437.13 L142.60,436.42 L143.60,435.78 L144.60,435.21 L145.60,434.69 L146.60,434.23 L147.60,433.83 L148.60,433.48 L149.60,433.20 L150.60,432.98 L151.60,432.79 L152.60,432.63 L153.60,432.50 L154.60,432.40 L155.60,432.34 L156.60,432.32 L157.60,432.32 L158.60,432.33 L159.60,432.35 L160.60,432.36 L161.60,432.38 L162.60,432.42 L163.60,432.51 L164.60,432.70 L165.60,433.01 L166.60,433.42 L167.60,433.88 L168.60,434.38 L169.60,434.93 L170.60,435.55 L171.60,436.25 L172.60,437.00 L173.60,437.82 L174.60,438.72 L175.60,439.69 L176.60,440.72 L177.60,441.79 L178.60,442.88 L179.60,444.00 L180.60,445.15 L181.60,446.33 L182.60,447.52 L183.60,448.70 L184.60,449.87 L185.60,451.03 L186.60,452.20 L187.60,453.39 L188.60,454.63 L189.60,455.93 L190.60,457.31 L191.60,458.77 L192.60,460.32 L193.60,461.94 L194.60,463.60 L195.60,465.31 L196.60,467.03 L197.60,468.76 L198.60,470.48 L199.60,472.17 L200.60,473.82 L201.60,475.40 L202.60,476.91 L203.60,478.35 L204.60,479.75 L205.60,481.13 L206.60,482.49 L207.60,483.83 L208.60,485.13 L209.60,486.40 L210.60,487.61 L211.60,488.77 L212.60,489.86 L213.60,490.87 L214.60,491.81 L215.60,492.66 L216.60,493.44 L217.60,494.18 L218.60,494.89 L219.60,495.59 L220.60,496.25 L221.60,496.88 L222.60,497.45 L223.60,497.97 L224.60,498.42 L225.60,498.78 L226.60,499.06 L227.60,499.24 L228.60,499.32 L229.60,499.33 L230.60,499.31 L231.60,499.27 L232.60,499.21 L233.60,499.14 L234.60,499.06 L235.60,498.97 L236.60,498.87 L237.60,498.76 L238.60,498.65 L239.60,498.52 L240.60,498.38 L241.60,498.22 L242.60,498.02 L243.60,497.77 L244.60,497.48 L245.60,497.14 L246.60,496.77 L247.60,496.37 L248.60,495.94 L249.60,495.50 L250.60,495.05 L251.60,494.59 L252.60,494.14 L253.60,493.69 L254.60,493.24 L255.60,492.78 L256.60,492.31 L257.60,491.83 L258.60,491.33 L259.60,490.83 L260.60,490.32 L261.60,489.81 L262.60,489.30 L263.60,488.79 L264.60,488.28 L265.60,487.79 L266.60,487.30 L267.60,486.81 L268.60,486.33 L269.60,485.84 L270.60,485.36 L271.60,484.88 L272.60,484.41 L273.60,483.96 L274.60,483.52 L275.60,483.10 L276.60,482.69 L277.60,482.32 L278.60,481.97 L279.60,481.63 L280.60,481.31 L281.60,480.99 L282.60,480.67 L283.60,480.35 L284.60,480.05 L285.60,479.76 L286.60,479.50 L287.60,479.26 L288.60,479.06 L289.60,478.89 L290.60,478.77 L291.60,478.70 L292.60,478.67 L293.60,478.66 L294.60,478.66 L295.60,478.68 L296.60,478.71 L297.60,478.76 L298.60,478.81 L299.60,478.87 L300.60,478.94 L301.60,479.02 L302.60,479.13 L303.60,479.27 L304.60,479.44 L305.60,479.64 L306.60,479.87 L307.60,480.10 L308.60,480.35 L309.60,480.61 L310.60,480.86 L311.60,481.11 L312.60,481.34 L313.60,481.56 L314.60,481.77 L315.60,481.96 L316.60,482.14 L317.60,482.32 L318.60,482.52 L319.60,482.74 L320.60,482.98 L321.60,483.25 L322.60,483.55 L323.60,483.87 L324.60,484.21 L325.60,484.57 L326.60,484.95 L327.60,485.35 L328.60,485.76 L329.60,486.18 L330.60,486.62 L331.60,487.07 L332.60,487.52 L333.60,487.99 L334.60,488.45 L335.60,488.92 L336.60,489.39 L337.60,489.86 L338.60,490.32 L339.60,490.78 L340.60,491.24 L341.60,491.69 L342.60,492.12 L343.60,492.56 L344.60,492.99 L345.60,493.42 L346.60,493.86 L347.60,494.30 L348.60,494.75 L349.60,495.19 L350.60,495.64 L351.60,496.10 L352.60,496.55 L353.60,497.00 L354.60,497.45 L355.60,497.91 L356.60,498.35 L357.60,498.80 L358.60,499.25 L359.60,499.69 L360.60,500.12 L361.60,500.55 L362.60,500.98 L363.60,501.40 L364.60,501.81 L365.60,502.21 L366.60,502.61 L367.60,503.00 L368.60,503.39 L369.60,503.78 L370.60,504.16 L371.60,504.55 L372.60,504.93 L373.60,505.30 L374.60,505.68 L375.60,506.05 L376.60,506.42 L377.60,506.78 L378.60,507.15 L379.60,507.50 L380.60,507.85 L381.60,508.20 L382.60,508.55 L383.60,508.88 L384.60,509.22 L385.60,509.54 L386.60,509.86 L387.60,510.18 L388.60,510.49 L389.60,510.79 L390.60,511.09 L391.60,511.38 L392.60,511.68 L393.60,511.97 L394.60,512.26 L395.60,512.54 L396.60,512.83 L397.60,513.11 L398.60,513.38 L399.60,513.65 L400.60,513.92 L401.60,514.18 L402.60,514.44 L403.60,514.69 L404.60,514.94 L405.60,515.18 L406.60,515.41 L407.60,515.63 L408.60,515.85 L409.60,516.06 L410.60,516.26 L411.60,516.45 L412.60,516.64 L413.60,516.81 L414.60,516.99 L415.60,517.16 L416.60,517.32 L417.60,517.49 L418.60,517.65 L419.60,517.81 L420.60,517.96 L421.60,518.11 L422.60,518.26 L423.60,518.40 L424.60,518.54 L425.60,518.67 L426.60,518.80 L427.60,518.93 L428.60,519.05 L429.60,519.16 L430.60,519.27 L431.60,519.37 L432.60,519.46 L433.60,519.55 L434.60,519.63 L435.60,519.71 L436.60,519.77 L437.60,519.84 L438.60,519.90 L439.60,519.95 L440.60,520.01 L441.60,520.06 L442.60,520.12 L443.60,520.17 L444.60,520.22 L445.60,520.27 L446.60,520.31 L447.60,520.36 L448.60,520.41 L449.60,520.45 L450.60,520.49 L451.60,520.53 L452.60,520.57 L453.60,520.61 L454.60,520.65 L455.60,520.68 L456.60,520.71 L457.60,520.73 L458.60,520.76 L459.60,520.78 L460.60,520.79 L461.60,520.81 L462.60,520.82 L463.60,520.83 L464.60,520.83 L465.60,520.84 L466.60,520.84 L467.60,520.84 L468.60,520.85 L469.60,520.84 L470.60,520.84 L471.60,520.84 L472.60,520.83 L473.60,520.83 L474.60,520.82 L475.60,520.81 L476.60,520.80 L477.60,520.79 L478.60,520.78 L479.60,520.77 L480.60,520.75 L481.60,520.74 L482.60,520.72 L483.60,520.71 L484.60,520.69 L485.60,520.67 L486.60,520.64 L487.60,520.62 L488.60,520.60 L489.60,520.57 L490.60,520.54 L491.60,520.52 L492.60,520.49 L493.60,520.45 L494.60,520.42 L495.60,520.39 L496.60,520.35 L497.60,520.31 L498.60,520.27 L499.60,520.22 L500.60,520.17 L501.60,520.10 L502.60,520.02 L503.60,519.94 L504.60,519.85 L505.60,519.75 L506.60,519.65 L507.60,519.53 L508.60,519.42 L509.60,519.29 L510.60,519.17 L511.60,519.04 L512.60,518.90 L513.60,518.76 L514.60,518.62 L515.60,518.48 L516.60,518.34 L517.60,518.19 L518.60,518.05 L519.60,517.90 L520.60,517.76 L521.60,517.62 L522.60,517.48 L523.60,517.33 L524.60,517.19 L525.60,517.04 L526.60,516.88 L527.60,516.72 L528.60,516.56 L529.60,516.40 L530.60,516.24 L531.60,516.07 L532.60,515.90 L533.60,515.72 L534.60,515.55 L535.60,515.37 L536.60,515.19 L537.60,515.01 L538.60,514.83 L539.60,514.65 L540.60,514.47 L541.60,514.28 L542.60,514.10 L543.60,513.91 L544.60,513.73 L545.60,513.54 L546.60,513.36 L547.60,513.17 L548.60,512.98 L549.60,512.79 L550.60,512.59 L551.60,512.39 L552.60,512.19 L553.60,511.98 L554.60,511.78 L555.60,511.57 L556.60,511.36 L557.60,511.15 L558.60,510.94 L559.60,510.74 L560.60,510.53 L561.60,510.32 L562.60,510.12 L563.60,509.92 L564.60,509.72 L565.60,509.53 L566.60,509.34 L567.60,509.15 L568.60,508.97 L569.60,508.79 L570.60,508.62 L571.60,508.46 L572.60,508.29 L573.60,508.13 L574.60,507.97 L575.60,507.82 L576.60,507.66 L577.60,507.51 L578.60,507.36 L579.60,507.21 L580.60,507.07 L581.60,506.92 L582.60,506.78 L583.60,506.65 L584.60,506.51 L585.60,506.39 L586.60,506.27 L587.60,506.18 L587.80,506.13" fill="none" stroke="#d81c24" stroke-width="1.6"/>
<path d="M60.60,588.30 L61.60,588.29 L62.60,588.29 L63.60,588.28 L64.60,588.26 L65.60,588.24 L66.60,588.22 L67.60,588.19 L68.60,588.16 L69.60,588.13 L70.60,588.09 L71.60,588.05 L72.60,588.00 L73.60,587.96 L74.60,587.91 L75.60,587.86 L76.60,587.80 L77.60,587.74 L78.60,587.68 L79.60,587.61 L80.60,587.53 L81.60,587.44 L82.60,587.32 L83.60,587.18 L84.60,587.03 L85.60,586.85 L86.60,586.67 L87.60,586.46 L88.60,586.24 L89.60,585.99 L90.60,585.71 L91.60,585.40 L92.60,585.06 L93.60,584.71 L94.60,584.33 L95.60,583.94 L96.60,583.52 L97.60,583.08 L98.60,582.61 L99.60,582.11 L100.60,581.58 L101.60,581.03 L102.60,580.47 L103.60,579.89 L104.60,579.29 L105.60,578.68 L106.60,578.05 L107.60,577.40 L108.60,576.71 L109.60,575.98 L110.60,575.18 L111.60,574.31 L112.60,573.35 L113.60,572.30 L114.60,571.17 L115.60,569.97 L116.60,568.74 L117.60,567.46 L118.60,566.12 L119.60,564.70 L120.60,563.18 L121.60,561.52 L122.60,559.71 L123.60,557.77 L124.60,555.77 L125.60,553.74 L126.60,551.73 L127.60,549.70 L128.60,547.64 L129.60,545.50 L130.60,543.26 L131.60,540.87 L132.60,538.31 L133.60,535.59 L134.60,532.79 L135.60,530.06 L136.60,527.48 L137.60,525.07 L138.60,522.81 L139.60,520.66 L140.60,518.59 L141.60,516.56 L142.60,514.54 L143.60,512.49 L144.60,510.43 L145.60,508.43 L146.60,506.52 L147.60,504.73 L148.60,503.06 L149.60,501.53 L150.60,500.12 L151.60,498.82 L152.60,497.62 L153.60,496.51 L154.60,495.47 L155.60,494.50 L156.60,493.58 L157.60,492.72 L158.60,491.90 L159.60,491.11 L160.60,490.34 L161.60,489.60 L162.60,488.90 L163.60,488.29 L164.60,487.80 L165.60,487.41 L166.60,487.11 L167.60,486.86 L168.60,486.66 L169.60,486.51 L170.60,486.42 L171.60,486.41 L172.60,486.48 L173.60,486.65 L174.60,486.91 L175.60,487.24 L176.60,487.62 L177.60,488.03 L178.60,488.49 L179.60,488.99 L180.60,489.54 L181.60,490.15 L182.60,490.81 L183.60,491.51 L184.60,492.24 L185.60,492.99 L186.60,493.79 L187.60,494.62 L188.60,495.48 L189.60,496.37 L190.60,497.29 L191.60,498.23 L192.60,499.18 L193.60,500.16 L194.60,501.16 L195.60,502.18 L196.60,503.22 L197.60,504.28 L198.60,505.36 L199.60,506.47 L200.60,507.61 L201.60,508.75 L202.60,509.88 L203.60,510.98 L204.60,512.03 L205.60,513.03 L206.60,513.99 L207.60,514.90 L208.60,515.78 L209.60,516.62 L210.60,517.43 L211.60,518.21 L212.60,518.97 L213.60,519.72 L214.60,520.43 L215.60,521.08 L216.60,521.65 L217.60,522.13 L218.60,522.51 L219.60,522.81 L220.60,523.07 L221.60,523.28 L222.60,523.44 L223.60,523.56 L224.60,523.61 L225.60,523.58 L226.60,523.48 L227.60,523.30 L228.60,523.06 L229.60,522.75 L230.60,522.41 L231.60,522.04 L232.60,521.65 L233.60,521.25 L234.60,520.85 L235.60,520.46 L236.60,520.04 L237.60,519.62 L238.60,519.17 L239.60,518.69 L240.60,518.20 L241.60,517.70 L242.60,517.18 L243.60,516.65 L244.60,516.11 L245.60,515.56 L246.60,515.00 L247.60,514.44 L248.60,513.87 L249.60,513.29 L250.60,512.69 L251.60,512.07 L252.60,511.45 L253.60,510.81 L254.60,510.17 L255.60,509.52 L256.60,508.87 L257.60,508.23 L258.60,507.58 L259.60,506.94 L260.60,506.30 L261.60,505.66 L262.60,505.00 L263.60,504.34 L264.60,503.68 L265.60,503.01 L266.60,502.35 L267.60,501.70 L268.60,501.08 L269.60,500.47 L270.60,499.89 L271.60,499.34 L272.60,498.83 L273.60,498.34 L274.60,497.88 L275.60,497.43 L276.60,497.00 L277.60,496.58 L278.60,496.18 L279.60,495.79 L280.60,495.42 L281.60,495.07 L282.60,494.73 L283.60,494.42 L284.60,494.12 L285.60,493.84 L286.60,493.56 L287.60,493.29 L288.60,493.02 L289.60,492.76 L290.60,492.50 L291.60,492.26 L292.60,492.03 L293.60,491.83 L294.60,491.66 L295.60,491.52 L296.60,491.42 L297.60,491.36 L298.60,491.33 L299.60,491.33 L300.60,491.36 L301.60,491.39 L302.60,491.45 L303.60,491.51 L304.60,491.58 L305.60,491.66 L306.60,491.75 L307.60,491.85 L308.60,491.95 L309.60,492.05 L310.60,492.17 L311.60,492.30 L312.60,492.46 L313.60,492.64 L314.60,492.85 L315.60,493.08 L316.60,493.34 L317.60,493.61 L318.60,493.89 L319.60,494.18 L320.60,494.48 L321.60,494.78 L322.60,495.07 L323.60,495.37 L324.60,495.66 L325.60,495.96 L326.60,496.27 L327.60,496.57 L328.60,496.89 L329.60,497.21 L330.60,497.54 L331.60,497.87 L332.60,498.21 L333.60,498.55 L334.60,498.89 L335.60,499.24 L336.60,499.59 L337.60,499.95 L338.60,500.30 L339.60,500.66 L340.60,501.02 L341.60,501.38 L342.60,501.75 L343.60,502.11 L344.60,502.48 L345.60,502.85 L346.60,503.22 L347.60,503.60 L348.60,503.98 L349.60,504.36 L350.60,504.75 L351.60,505.14 L352.60,505.53 L353.60,505.92 L354.60,506.32 L355.60,506.72 L356.60,507.12 L357.60,507.53 L358.60,507.93 L359.60,508.34 L360.60,508.75 L361.60,509.17 L362.60,509.58 L363.60,510.00 L364.60,510.42 L365.60,510.84 L366.60,511.26 L367.60,511.69 L368.60,512.13 L369.60,512.57 L370.60,513.02 L371.60,513.47 L372.60,513.93 L373.60,514.40 L374.60,514.86 L375.60,515.33 L376.60,515.80 L377.60,516.27 L378.60,516.75 L379.60,517.21 L380.60,517.68 L381.60,518.15 L382.60,518.61 L383.60,519.06 L384.60,519.51 L385.60,519.95 L386.60,520.38 L387.60,520.81 L388.60,521.22 L389.60,521.63 L390.60,522.03 L391.60,522.42 L392.60,522.81 L393.60,523.19 L394.60,523.56 L395.60,523.94 L396.60,524.30 L397.60,524.67 L398.60,525.03 L399.60,525.38 L400.60,525.74 L401.60,526.09 L402.60,526.44 L403.60,526.78 L404.60,527.12 L405.60,527.46 L406.60,527.80 L407.60,528.13 L408.60,528.46 L409.60,528.79 L410.60,529.12 L411.60,529.45 L412.60,529.77 L413.60,530.10 L414.60,530.42 L415.60,530.75 L416.60,531.07 L417.60,531.39 L418.60,531.72 L419.60,532.04 L420.60,532.36 L421.60,532.68 L422.60,533.00 L423.60,533.31 L424.60,533.62 L425.60,533.93 L426.60,534.23 L427.60,534.53 L428.60,534.83 L429.60,535.12 L430.60,535.40 L431.60,535.68 L432.60,535.95 L433.60,536.22 L434.60,536.47 L435.60,536.72 L436.60,536.96 L437.60,537.20 L438.60,537.42 L439.60,537.63 L440.60,537.83 L441.60,538.03 L442.60,538.23 L443.60,538.42 L444.60,538.61 L445.60,538.80 L446.60,539.00 L447.60,539.20 L448.60,539.40 L449.60,539.62 L450.60,539.84 L451.60,540.07 L452.60,540.31 L453.60,540.55 L454.60,540.80 L455.60,541.05 L456.60,541.31 L457.60,541.57 L458.60,541.83 L459.60,542.09 L460.60,542.36 L461.60,542.63 L462.60,542.90 L463.60,543.17 L464.60,543.44 L465.60,543.71 L466.60,543.98 L467.60,544.26 L468.60,544.52 L469.60,544.79 L470.60,545.06 L471.60,545.32 L472.60,545.58 L473.60,545.84 L474.60,546.10 L475.60,546.35 L476.60,546.61 L477.60,546.86 L478.60,547.11 L479.60,547.36 L480.60,547.62 L481.60,547.87 L482.60,548.12 L483.60,548.37 L484.60,548.61 L485.60,548.86 L486.60,549.11 L487.60,549.36 L488.60,549.61 L489.60,549.85 L490.60,550.10 L491.60,550.35 L492.60,550.60 L493.60,550.84 L494.60,551.09 L495.60,551.33 L496.60,551.58 L497.60,551.83 L498.60,552.08 L499.60,552.33 L500.60,552.58 L501.60,552.84 L502.60,553.10 L503.60,553.36 L504.60,553.62 L505.60,553.88 L506.60,554.14 L507.60,554.41 L508.60,554.67 L509.60,554.93 L510.60,555.18 L511.60,555.44 L512.60,555.69 L513.60,555.94 L514.60,556.18 L515.60,556.42 L516.60,556.66 L517.60,556.88 L518.60,557.10 L519.60,557.32 L520.60,557.52 L521.60,557.72 L522.60,557.91 L523.60,558.09 L524.60,558.27 L525.60,558.44 L526.60,558.61 L527.60,558.78 L528.60,558.94 L529.60,559.10 L530.60,559.25 L531.60,559.40 L532.60,559.55 L533.60,559.70 L534.60,559.84 L535.60,559.98 L536.60,560.12 L537.60,560.26 L538.60,560.40 L539.60,560.53 L540.60,560.67 L541.60,560.81 L542.60,560.94 L543.60,561.08 L544.60,561.21 L545.60,561.35 L546.60,561.49 L547.60,561.62 L548.60,561.76 L549.60,561.90 L550.60,562.04 L551.60,562.17 L552.60,562.31 L553.60,562.44 L554.60,562.58 L555.60,562.71 L556.60,562.84 L557.60,562.98 L558.60,563.11 L559.60,563.24 L560.60,563.37 L561.60,563.49 L562.60,563.62 L563.60,563.74 L564.60,563.87 L565.60,563.99 L566.60,564.11 L567.60,564.23 L568.60,564.35 L569.60,564.46 L570.60,564.58 L571.60,564.69 L572.60,564.80 L573.60,564.91 L574.60,565.01 L575.60,565.12 L576.60,565.23 L577.60,565.33 L578.60,565.43 L579.60,565.53 L580.60,565.63 L581.60,565.73 L582.60,565.83 L583.60,565.92 L584.60,566.02 L585.60,566.10 L586.60,566.18 L587.60,566.25 L587.80,566.28" fill="none" stroke="#1c1cc8" stroke-width="1.55" stroke-dasharray="8.5 6.5"/>
<path d="M78.60,307.80 L78.60,307.83 L79.60,314.69 L80.60,321.33 L81.60,327.76 L82.60,333.99 L83.60,340.02 L84.60,345.86 L85.60,351.53 L86.60,357.02 L87.60,362.34 L88.60,367.50 L89.60,372.51 L90.60,377.37 L91.60,382.08 L92.60,386.66 L93.60,391.10 L94.60,395.41 L95.60,399.60 L96.60,403.67 L97.60,407.63 L98.60,411.47 L99.60,415.21 L100.60,418.84 L101.60,422.37 L102.60,425.80 L103.60,429.15 L104.60,432.40 L105.60,435.56 L106.60,438.64 L107.60,441.63 L108.60,444.55 L109.60,447.39 L110.60,450.16 L111.60,452.86 L112.60,455.48 L113.60,458.04 L114.60,460.54 L115.60,462.97 L116.60,465.34 L117.60,467.65 L118.60,469.90 L119.60,472.10 L120.60,474.25 L121.60,476.34 L122.60,478.38 L123.60,480.37 L124.60,482.32 L125.60,484.22 L126.60,486.07 L127.60,487.88 L128.60,489.65 L129.60,491.38 L130.60,493.06 L131.60,494.71 L132.60,496.32 L133.60,497.90 L134.60,499.43 L135.60,500.94 L136.60,502.41 L137.60,503.85 L138.60,505.25 L139.60,506.63 L140.60,507.97 L141.60,509.29 L142.60,510.57 L143.60,511.83 L144.60,513.07 L145.60,514.27 L146.60,515.45 L147.60,516.61 L148.60,517.74 L149.60,518.85 L150.60,519.93 L151.60,521.00 L152.60,522.04 L153.60,523.06 L154.60,524.06 L155.60,525.04 L156.60,525.99 L157.60,526.93 L158.60,527.85 L159.60,528.76 L160.60,529.64 L161.60,530.51 L162.60,531.36 L163.60,532.19 L164.60,533.01 L165.60,533.81 L166.60,534.60 L167.60,535.37 L168.60,536.13 L169.60,536.87 L170.60,537.60 L171.60,538.32 L172.60,539.02 L173.60,539.71 L174.60,540.38 L175.60,541.05 L176.60,541.70 L177.60,542.34 L178.60,542.97 L179.60,543.58 L180.60,544.19 L181.60,544.78 L182.60,545.37 L183.60,545.94 L184.60,546.51 L185.60,547.06 L186.60,547.60 L187.60,548.14 L188.60,548.66 L189.60,549.18 L190.60,549.69 L191.60,550.18 L192.60,550.67 L193.60,551.16 L194.60,551.63 L195.60,552.10 L196.60,552.55 L197.60,553.00 L198.60,553.45 L199.60,553.88 L200.60,554.31 L201.60,554.73 L202.60,555.15 L203.60,555.55 L204.60,555.95 L205.60,556.35 L206.60,556.74 L207.60,557.12 L208.60,557.49 L209.60,557.86 L210.60,558.23 L211.60,558.58 L212.60,558.94 L213.60,559.28 L214.60,559.63 L215.60,559.96 L216.60,560.29 L217.60,560.62 L218.60,560.94 L219.60,561.26 L220.60,561.57 L221.60,561.87 L222.60,562.17 L223.60,562.47 L224.60,562.76 L225.60,563.05 L226.60,563.34 L227.60,563.62 L228.60,563.89 L229.60,564.16 L230.60,564.43 L231.60,564.69 L232.60,564.95 L233.60,565.21 L234.60,565.46 L235.60,565.71 L236.60,565.96 L237.60,566.20 L238.60,566.44 L239.60,566.67 L240.60,566.90 L241.60,567.13 L242.60,567.36 L243.60,567.58 L244.60,567.80 L245.60,568.01 L246.60,568.22 L247.60,568.43 L248.60,568.64 L249.60,568.84 L250.60,569.05 L251.60,569.24 L252.60,569.44 L253.60,569.63 L254.60,569.82 L255.60,570.01 L256.60,570.20 L257.60,570.38 L258.60,570.56 L259.60,570.74 L260.60,570.91 L261.60,571.09 L262.60,571.26 L263.60,571.43 L264.60,571.59 L265.60,571.76 L266.60,571.92 L267.60,572.08 L268.60,572.24 L269.60,572.40 L270.60,572.55 L271.60,572.70 L272.60,572.85 L273.60,573.00 L274.60,573.15 L275.60,573.29 L276.60,573.43 L277.60,573.57 L278.60,573.71 L279.60,573.85 L280.60,573.99 L281.60,574.12 L282.60,574.25 L283.60,574.38 L284.60,574.51 L285.60,574.64 L286.60,574.77 L287.60,574.89 L288.60,575.01 L289.60,575.14 L290.60,575.26 L291.60,575.37 L292.60,575.49 L293.60,575.61 L294.60,575.72 L295.60,575.84 L296.60,575.95 L297.60,576.06 L298.60,576.17 L299.60,576.27 L300.60,576.38 L301.60,576.49 L302.60,576.59 L303.60,576.69 L304.60,576.79 L305.60,576.90 L306.60,576.99 L307.60,577.09 L308.60,577.19 L309.60,577.29 L310.60,577.38 L311.60,577.47 L312.60,577.57 L313.60,577.66 L314.60,577.75 L315.60,577.84 L316.60,577.93 L317.60,578.02 L318.60,578.10 L319.60,578.19 L320.60,578.27 L321.60,578.36 L322.60,578.44 L323.60,578.52 L324.60,578.60 L325.60,578.68 L326.60,578.76 L327.60,578.84 L328.60,578.92 L329.60,578.99 L330.60,579.07 L331.60,579.15 L332.60,579.22 L333.60,579.29 L334.60,579.37 L335.60,579.44 L336.60,579.51 L337.60,579.58 L338.60,579.65 L339.60,579.72 L340.60,579.79 L341.60,579.86 L342.60,579.92 L343.60,579.99 L344.60,580.05 L345.60,580.12 L346.60,580.18 L347.60,580.25 L348.60,580.31 L349.60,580.37 L350.60,580.43 L351.60,580.49 L352.60,580.55 L353.60,580.61 L354.60,580.67 L355.60,580.73 L356.60,580.79 L357.60,580.85 L358.60,580.90 L359.60,580.96 L360.60,581.01 L361.60,581.07 L362.60,581.12 L363.60,581.18 L364.60,581.23 L365.60,581.28 L366.60,581.34 L367.60,581.39 L368.60,581.44 L369.60,581.49 L370.60,581.54 L371.60,581.59 L372.60,581.64 L373.60,581.69 L374.60,581.74 L375.60,581.79 L376.60,581.83 L377.60,581.88 L378.60,581.93 L379.60,581.97 L380.60,582.02 L381.60,582.07 L382.60,582.11 L383.60,582.15 L384.60,582.20 L385.60,582.24 L386.60,582.29 L387.60,582.33 L388.60,582.37 L389.60,582.41 L390.60,582.45 L391.60,582.50 L392.60,582.54 L393.60,582.58 L394.60,582.62 L395.60,582.66 L396.60,582.70 L397.60,582.74 L398.60,582.77 L399.60,582.81 L400.60,582.85 L401.60,582.89 L402.60,582.93 L403.60,582.96 L404.60,583.00 L405.60,583.04 L406.60,583.07 L407.60,583.11 L408.60,583.14 L409.60,583.18 L410.60,583.21 L411.60,583.25 L412.60,583.28 L413.60,583.31 L414.60,583.35 L415.60,583.38 L416.60,583.41 L417.60,583.45 L418.60,583.48 L419.60,583.51 L420.60,583.54 L421.60,583.57 L422.60,583.61 L423.60,583.64 L424.60,583.67 L425.60,583.70 L426.60,583.73 L427.60,583.76 L428.60,583.79 L429.60,583.82 L430.60,583.85 L431.60,583.88 L432.60,583.90 L433.60,583.93 L434.60,583.96 L435.60,583.99 L436.60,584.02 L437.60,584.04 L438.60,584.07 L439.60,584.10 L440.60,584.12 L441.60,584.15 L442.60,584.18 L443.60,584.20 L444.60,584.23 L445.60,584.26 L446.60,584.28 L447.60,584.31 L448.60,584.33 L449.60,584.36 L450.60,584.38 L451.60,584.41 L452.60,584.43 L453.60,584.45 L454.60,584.48 L455.60,584.50 L456.60,584.53 L457.60,584.55 L458.60,584.57 L459.60,584.59 L460.60,584.62 L461.60,584.64 L462.60,584.66 L463.60,584.68 L464.60,584.71 L465.60,584.73 L466.60,584.75 L467.60,584.77 L468.60,584.79 L469.60,584.81 L470.60,584.84 L471.60,584.86 L472.60,584.88 L473.60,584.90 L474.60,584.92 L475.60,584.94 L476.60,584.96 L477.60,584.98 L478.60,585.00 L479.60,585.02 L480.60,585.04 L481.60,585.06 L482.60,585.08 L483.60,585.09 L484.60,585.11 L485.60,585.13 L486.60,585.15 L487.60,585.17 L488.60,585.19 L489.60,585.21 L490.60,585.22 L491.60,585.24 L492.60,585.26 L493.60,585.28 L494.60,585.29 L495.60,585.31 L496.60,585.33 L497.60,585.35 L498.60,585.36 L499.60,585.38 L500.60,585.40 L501.60,585.41 L502.60,585.43 L503.60,585.45 L504.60,585.46 L505.60,585.48 L506.60,585.50 L507.60,585.51 L508.60,585.53 L509.60,585.54 L510.60,585.56 L511.60,585.57 L512.60,585.59 L513.60,585.60 L514.60,585.62 L515.60,585.63 L516.60,585.65 L517.60,585.66 L518.60,585.68 L519.60,585.69 L520.60,585.71 L521.60,585.72 L522.60,585.74 L523.60,585.75 L524.60,585.76 L525.60,585.78 L526.60,585.79 L527.60,585.81 L528.60,585.82 L529.60,585.83 L530.60,585.85 L531.60,585.86 L532.60,585.87 L533.60,585.89 L534.60,585.90 L535.60,585.91 L536.60,585.93 L537.60,585.94 L538.60,585.95 L539.60,585.96 L540.60,585.98 L541.60,585.99 L542.60,586.00 L543.60,586.01 L544.60,586.03 L545.60,586.04 L546.60,586.05 L547.60,586.06 L548.60,586.07 L549.60,586.09 L550.60,586.10 L551.60,586.11 L552.60,586.12 L553.60,586.13 L554.60,586.14 L555.60,586.16 L556.60,586.17 L557.60,586.18 L558.60,586.19 L559.60,586.20 L560.60,586.21 L561.60,586.22 L562.60,586.23 L563.60,586.24 L564.60,586.25 L565.60,586.26 L566.60,586.28 L567.60,586.29 L568.60,586.30 L569.60,586.31 L570.60,586.32 L571.60,586.33 L572.60,586.34 L573.60,586.35 L574.60,586.36 L575.60,586.37 L576.60,586.38 L577.60,586.39 L578.60,586.40 L579.60,586.41 L580.60,586.42 L581.60,586.43 L582.60,586.43 L583.60,586.44 L584.60,586.45 L585.60,586.46 L586.60,586.47 L587.60,586.48 L587.80,586.48" fill="none" stroke="#2cc62c" stroke-width="1.9" stroke-dasharray="0.01 4.75" stroke-linecap="round"/>
<path d="M60.60,588.40 L61.60,588.40 L62.60,588.40 L63.60,588.40 L64.60,588.40 L65.60,588.40 L66.60,588.40 L67.60,588.40 L68.60,588.40 L69.60,588.40 L70.60,588.40 L71.60,588.40 L72.60,588.40 L73.60,588.40 L74.60,588.40 L75.60,588.40 L76.60,588.40 L77.60,588.40 L78.60,588.40 L79.60,588.40 L80.60,588.40 L81.60,588.40 L82.60,588.40 L83.60,588.40 L84.60,588.40 L85.60,588.40 L86.60,588.40 L87.60,588.40 L88.60,588.40 L89.60,588.40 L90.60,588.40 L91.60,588.40 L92.60,588.40 L93.60,588.40 L94.60,588.40 L95.60,588.40 L96.60,588.40 L97.60,588.40 L98.60,588.40 L99.60,588.40 L100.60,588.40 L101.60,588.40 L102.60,588.40 L103.60,588.40 L104.60,588.40 L105.60,588.40 L106.60,588.40 L107.60,588.40 L108.60,588.40 L109.60,588.40 L110.60,588.40 L111.60,588.40 L112.60,588.40 L113.60,588.40 L114.60,588.40 L115.60,588.40 L116.60,588.40 L117.60,588.40 L118.60,588.40 L119.60,588.40 L120.60,588.40 L121.60,588.40 L122.60,588.40 L123.60,588.40 L124.60,588.40 L125.60,588.40 L126.60,588.40 L127.60,588.40 L128.60,588.40 L129.60,588.40 L130.60,588.40 L131.60,588.40 L132.60,588.40 L133.60,588.40 L134.60,588.40 L135.60,588.40 L136.60,588.40 L137.60,588.40 L138.60,588.40 L139.60,588.40 L140.60,588.40 L141.60,588.40 L142.60,588.40 L143.60,588.40 L144.60,588.40 L145.60,588.40 L146.60,588.40 L147.60,588.40 L148.60,588.40 L149.60,588.40 L150.60,588.40 L151.60,588.40 L152.60,588.40 L153.60,588.40 L154.60,588.40 L155.60,588.40 L156.60,588.40 L157.60,588.40 L158.60,588.40 L159.60,588.40 L160.60,588.40 L161.60,588.40 L162.60,588.40 L163.60,588.40 L164.60,588.40 L165.60,588.40 L166.60,588.40 L167.60,588.40 L168.60,588.40 L169.60,588.40 L170.60,588.40 L171.60,588.40 L172.60,588.40 L173.60,588.40 L174.60,588.40 L175.60,588.40 L176.60,588.40 L177.60,588.40 L178.60,588.40 L179.60,588.40 L180.60,588.40 L181.60,588.40 L182.60,588.40 L183.60,588.40 L184.60,588.40 L185.60,588.40 L186.60,588.40 L187.60,588.40 L188.60,588.40 L189.60,588.40 L190.60,588.40 L191.60,588.40 L192.60,588.40 L193.60,588.40 L194.60,588.40 L195.60,588.40 L196.60,588.40 L197.60,588.40 L198.60,588.40 L199.60,588.40 L200.60,588.40 L201.60,588.40 L202.60,588.40 L203.60,588.40 L204.60,588.40 L205.60,588.40 L206.60,588.40 L207.60,588.40 L208.60,588.40 L209.60,588.40 L210.60,588.40 L211.60,588.40 L212.60,588.40 L213.60,588.40 L214.60,588.40 L215.60,588.40 L216.60,588.40 L217.60,588.40 L218.60,588.40 L219.60,588.40 L220.60,588.40 L221.60,588.40 L222.60,588.40 L223.60,588.40 L224.60,588.40 L225.60,588.40 L226.60,588.40 L227.60,588.40 L228.60,588.40 L229.60,588.40 L230.60,588.40 L231.60,588.40 L232.60,588.40 L233.60,588.40 L234.60,588.40 L235.60,588.40 L236.60,588.40 L237.60,588.40 L238.60,588.40 L239.60,588.40 L240.60,588.40 L241.60,588.40 L242.60,588.40 L243.60,588.40 L244.60,588.40 L245.60,588.40 L246.60,588.40 L247.60,588.40 L248.60,588.40 L249.60,588.40 L250.60,588.40 L251.60,588.40 L252.60,588.40 L253.60,588.40 L254.60,588.40 L255.60,588.40 L256.60,588.40 L257.60,588.40 L258.60,588.40 L259.60,588.40 L260.60,588.40 L261.60,588.40 L262.60,588.40 L263.60,588.40 L264.60,588.40 L265.60,588.40 L266.60,588.40 L267.60,588.40 L268.60,588.40 L269.60,588.40 L270.60,588.40 L271.60,588.40 L272.60,588.40 L273.60,588.40 L274.60,588.40 L275.60,588.40 L276.60,588.40 L277.60,588.40 L278.60,588.40 L279.60,588.40 L280.60,588.40 L281.60,588.39 L282.60,588.39 L283.60,588.38 L284.60,588.37 L285.60,588.36 L286.60,588.35 L287.60,588.33 L288.60,588.32 L289.60,588.30 L290.60,588.28 L291.60,588.25 L292.60,588.23 L293.60,588.20 L294.60,588.18 L295.60,588.15 L296.60,588.12 L297.60,588.09 L298.60,588.06 L299.60,588.02 L300.60,587.99 L301.60,587.95 L302.60,587.92 L303.60,587.88 L304.60,587.84 L305.60,587.80 L306.60,587.76 L307.60,587.72 L308.60,587.68 L309.60,587.64 L310.60,587.60 L311.60,587.56 L312.60,587.52 L313.60,587.47 L314.60,587.43 L315.60,587.39 L316.60,587.35 L317.60,587.30 L318.60,587.26 L319.60,587.22 L320.60,587.17 L321.60,587.13 L322.60,587.08 L323.60,587.03 L324.60,586.98 L325.60,586.93 L326.60,586.87 L327.60,586.81 L328.60,586.76 L329.60,586.70 L330.60,586.63 L331.60,586.57 L332.60,586.50 L333.60,586.44 L334.60,586.37 L335.60,586.30 L336.60,586.23 L337.60,586.16 L338.60,586.08 L339.60,586.01 L340.60,585.93 L341.60,585.85 L342.60,585.78 L343.60,585.70 L344.60,585.62 L345.60,585.53 L346.60,585.45 L347.60,585.37 L348.60,585.29 L349.60,585.20 L350.60,585.12 L351.60,585.03 L352.60,584.94 L353.60,584.86 L354.60,584.77 L355.60,584.68 L356.60,584.60 L357.60,584.51 L358.60,584.42 L359.60,584.33 L360.60,584.24 L361.60,584.15 L362.60,584.06 L363.60,583.97 L364.60,583.89 L365.60,583.80 L366.60,583.71 L367.60,583.62 L368.60,583.53 L369.60,583.44 L370.60,583.35 L371.60,583.25 L372.60,583.16 L373.60,583.06 L374.60,582.97 L375.60,582.87 L376.60,582.77 L377.60,582.67 L378.60,582.57 L379.60,582.47 L380.60,582.36 L381.60,582.26 L382.60,582.15 L383.60,582.04 L384.60,581.93 L385.60,581.82 L386.60,581.70 L387.60,581.58 L388.60,581.46 L389.60,581.34 L390.60,581.22 L391.60,581.09 L392.60,580.97 L393.60,580.84 L394.60,580.70 L395.60,580.56 L396.60,580.43 L397.60,580.28 L398.60,580.14 L399.60,579.99 L400.60,579.84 L401.60,579.69 L402.60,579.54 L403.60,579.39 L404.60,579.23 L405.60,579.07 L406.60,578.91 L407.60,578.75 L408.60,578.58 L409.60,578.42 L410.60,578.25 L411.60,578.08 L412.60,577.91 L413.60,577.74 L414.60,577.57 L415.60,577.39 L416.60,577.20 L417.60,577.02 L418.60,576.83 L419.60,576.63 L420.60,576.44 L421.60,576.24 L422.60,576.04 L423.60,575.84 L424.60,575.63 L425.60,575.43 L426.60,575.22 L427.60,575.02 L428.60,574.81 L429.60,574.61 L430.60,574.40 L431.60,574.20 L432.60,574.00 L433.60,573.80 L434.60,573.61 L435.60,573.41 L436.60,573.22 L437.60,573.04 L438.60,572.85 L439.60,572.66 L440.60,572.48 L441.60,572.30 L442.60,572.12 L443.60,571.94 L444.60,571.76 L445.60,571.58 L446.60,571.40 L447.60,571.23 L448.60,571.05 L449.60,570.87 L450.60,570.69 L451.60,570.52 L452.60,570.34 L453.60,570.16 L454.60,569.98 L455.60,569.80 L456.60,569.62 L457.60,569.44 L458.60,569.26 L459.60,569.07 L460.60,568.89 L461.60,568.71 L462.60,568.53 L463.60,568.35 L464.60,568.17 L465.60,567.99 L466.60,567.81 L467.60,567.63 L468.60,567.44 L469.60,567.25 L470.60,567.05 L471.60,566.85 L472.60,566.64 L473.60,566.42 L474.60,566.19 L475.60,565.95 L476.60,565.71 L477.60,565.46 L478.60,565.19 L479.60,564.93 L480.60,564.65 L481.60,564.37 L482.60,564.08 L483.60,563.78 L484.60,563.48 L485.60,563.18 L486.60,562.87 L487.60,562.56 L488.60,562.24 L489.60,561.92 L490.60,561.60 L491.60,561.28 L492.60,560.95 L493.60,560.63 L494.60,560.30 L495.60,559.98 L496.60,559.65 L497.60,559.32 L498.60,559.00 L499.60,558.66 L500.60,558.33 L501.60,557.99 L502.60,557.64 L503.60,557.30 L504.60,556.94 L505.60,556.59 L506.60,556.23 L507.60,555.87 L508.60,555.50 L509.60,555.14 L510.60,554.78 L511.60,554.41 L512.60,554.05 L513.60,553.69 L514.60,553.32 L515.60,552.97 L516.60,552.61 L517.60,552.26 L518.60,551.91 L519.60,551.57 L520.60,551.24 L521.60,550.90 L522.60,550.58 L523.60,550.26 L524.60,549.94 L525.60,549.63 L526.60,549.32 L527.60,549.01 L528.60,548.71 L529.60,548.41 L530.60,548.11 L531.60,547.81 L532.60,547.52 L533.60,547.23 L534.60,546.94 L535.60,546.64 L536.60,546.35 L537.60,546.06 L538.60,545.77 L539.60,545.48 L540.60,545.19 L541.60,544.90 L542.60,544.61 L543.60,544.32 L544.60,544.02 L545.60,543.73 L546.60,543.43 L547.60,543.13 L548.60,542.83 L549.60,542.52 L550.60,542.22 L551.60,541.91 L552.60,541.61 L553.60,541.30 L554.60,541.00 L555.60,540.69 L556.60,540.39 L557.60,540.08 L558.60,539.77 L559.60,539.47 L560.60,539.16 L561.60,538.86 L562.60,538.55 L563.60,538.25 L564.60,537.95 L565.60,537.65 L566.60,537.35 L567.60,537.05 L568.60,536.75 L569.60,536.46 L570.60,536.16 L571.60,535.87 L572.60,535.58 L573.60,535.29 L574.60,535.00 L575.60,534.71 L576.60,534.42 L577.60,534.14 L578.60,533.85 L579.60,533.57 L580.60,533.29 L581.60,533.00 L582.60,532.72 L583.60,532.44 L584.60,532.17 L585.60,531.92 L586.60,531.70 L587.60,531.52 L587.80,531.40" fill="none" stroke="#22d8d8" stroke-width="1.5" stroke-dasharray="8 3.5 1 3.5"/>
<text x="27.24" y="13.60" font-family="Liberation Serif, serif" font-size="19" fill="#000" textLength="27.83" lengthAdjust="spacingAndGlyphs" >1.5</text>
<text x="42.38" y="103.60" font-family="Liberation Serif, serif" font-size="19" fill="#000" textLength="8.66" lengthAdjust="spacingAndGlyphs" >1</text>
<text x="26.73" y="197.60" font-family="Liberation Serif, serif" font-size="19" fill="#000" textLength="28.56" lengthAdjust="spacingAndGlyphs" >0.5</text>
<text x="40.72" y="287.40" font-family="Liberation Serif, serif" font-size="19" fill="#000" textLength="11.56" lengthAdjust="spacingAndGlyphs" >0</text>
<text x="27.24" y="317.60" font-family="Liberation Serif, serif" font-size="19" fill="#000" textLength="27.83" lengthAdjust="spacingAndGlyphs" >1.5</text>
<text x="42.38" y="407.60" font-family="Liberation Serif, serif" font-size="19" fill="#000" textLength="8.66" lengthAdjust="spacingAndGlyphs" >1</text>
<text x="26.73" y="501.60" font-family="Liberation Serif, serif" font-size="19" fill="#000" textLength="28.56" lengthAdjust="spacingAndGlyphs" >0.5</text>
<text x="40.72" y="591.40" font-family="Liberation Serif, serif" font-size="19" fill="#000" textLength="11.56" lengthAdjust="spacingAndGlyphs" >0</text>
<text x="53.23" y="606.60" font-family="Liberation Serif, serif" font-size="19" fill="#000" textLength="14.40" lengthAdjust="spacingAndGlyphs" >5</text>
<text x="137.40" y="606.60" font-family="Liberation Serif, serif" font-size="19" fill="#000" textLength="22.77" lengthAdjust="spacingAndGlyphs" >10</text>
<text x="312.48" y="606.60" font-family="Liberation Serif, serif" font-size="19" fill="#000" textLength="23.20" lengthAdjust="spacingAndGlyphs" >20</text>
<text x="488.07" y="606.60" font-family="Liberation Serif, serif" font-size="19" fill="#000" textLength="23.63" lengthAdjust="spacingAndGlyphs" >30</text>
<text x="576.12" y="606.60" font-family="Liberation Serif, serif" font-size="19" fill="#000" textLength="22.56" lengthAdjust="spacingAndGlyphs" >35</text>
<text x="289.02" y="627" font-family="Liberation Serif, serif" font-size="20" textLength="69.81" lengthAdjust="spacingAndGlyphs">λ (<tspan font-style="italic">μ</tspan>m)</text>
<text transform="translate(17,262) rotate(-90)" x="0" y="0" font-family="Liberation Serif, serif" font-size="20.5" textLength="234" lengthAdjust="spacingAndGlyphs">λF<tspan font-size="13" dy="4">λ</tspan><tspan dy="-4"> (10</tspan><tspan font-size="13" dy="-8">−10</tspan><tspan dy="8"> erg s</tspan><tspan font-size="13" dy="-8">−1</tspan><tspan dy="8"> cm</tspan><tspan font-size="13" dy="-8">−2</tspan><tspan dy="8">)</tspan></text>
<text transform="translate(17,566.0) rotate(-90)" x="0" y="0" font-family="Liberation Serif, serif" font-size="20.5" textLength="234" lengthAdjust="spacingAndGlyphs">λF<tspan font-size="13" dy="4">λ</tspan><tspan dy="-4"> (10</tspan><tspan font-size="13" dy="-8">−10</tspan><tspan dy="8"> erg s</tspan><tspan font-size="13" dy="-8">−1</tspan><tspan dy="8"> cm</tspan><tspan font-size="13" dy="-8">−2</tspan><tspan dy="8">)</tspan></text>
<text x="183.93" y="28.10" font-family="Liberation Serif, serif" font-size="17.5" fill="#000" textLength="15.85" lengthAdjust="spacingAndGlyphs" >a:</text>
<text x="209.09" y="28.10" font-family="Liberation Serif, serif" font-size="17.5" fill="#000" textLength="81.05" lengthAdjust="spacingAndGlyphs" >compact</text>
<text x="299.14" y="28.10" font-family="Liberation Serif, serif" font-size="17.5" fill="#000" textLength="73.73" lengthAdjust="spacingAndGlyphs" >‘‘astro’’</text>
<text x="381.05" y="28.10" font-family="Liberation Serif, serif" font-size="17.5" fill="#000" textLength="27.79" lengthAdjust="spacingAndGlyphs" >sil.</text>
<text x="417.10" y="28.10" font-family="Liberation Serif, serif" font-size="17.5" fill="#000" textLength="47.98" lengthAdjust="spacingAndGlyphs" >dust,</text>
<text x="473.65" y="28.10" font-family="Liberation Serif, serif" font-size="17.5" fill="#000" textLength="10.67" lengthAdjust="spacingAndGlyphs" >a</text>
<text x="493.14" y="28.10" font-family="Liberation Serif, serif" font-size="17.5" fill="#000" textLength="9.70" lengthAdjust="spacingAndGlyphs" >=</text>
<text x="507.58" y="28.10" font-family="Liberation Serif, serif" font-size="17.5" fill="#000" textLength="58.98" lengthAdjust="spacingAndGlyphs" >1.2<tspan font-style="italic">μ</tspan>m</text>
<text x="218.69" y="48.60" font-family="Liberation Serif, serif" font-size="17.5" fill="#000" textLength="10.60" lengthAdjust="spacingAndGlyphs" >T</text>
<text x="229.27" y="53.80" font-family="Liberation Serif, serif" font-size="10.5" font-weight="bold" fill="#000" textLength="7.79" lengthAdjust="spacingAndGlyphs" >w</text>
<text x="238.57" y="48.60" font-family="Liberation Serif, serif" font-size="17.5" fill="#000" textLength="46.78" lengthAdjust="spacingAndGlyphs" >=207</text>
<text x="290.20" y="48.60" font-family="Liberation Serif, serif" font-size="17.5" fill="#000" textLength="16.90" lengthAdjust="spacingAndGlyphs" >K,</text>
<text x="317.55" y="48.60" font-family="Liberation Serif, serif" font-size="17.5" fill="#000" textLength="16.79" lengthAdjust="spacingAndGlyphs" >m</text>
<text x="335.27" y="53.80" font-family="Liberation Serif, serif" font-size="10.5" font-weight="bold" fill="#000" textLength="8.09" lengthAdjust="spacingAndGlyphs" >w</text>
<text x="343.62" y="48.60" font-family="Liberation Serif, serif" font-size="17.5" fill="#000" textLength="50.39" lengthAdjust="spacingAndGlyphs" >=0.11</text>
<text x="401.87" y="48.60" font-family="Liberation Serif, serif" font-size="17.5" fill="#000" textLength="15.95" lengthAdjust="spacingAndGlyphs" >m</text>
<circle cx="423.6" cy="50.1" r="3.1" fill="none" stroke="#000" stroke-width="1.15"/><circle cx="423.6" cy="50.1" r="1.0" fill="#000"/>
<text x="428.61" y="48.60" font-family="Liberation Serif, serif" font-size="17.5" fill="#000" textLength="4.53" lengthAdjust="spacingAndGlyphs" >,</text>
<text x="443.32" y="48.60" font-family="Liberation Serif, serif" font-size="17.5" fill="#000" textLength="10.78" lengthAdjust="spacingAndGlyphs" ><tspan font-style="italic">χ</tspan></text>
<text x="453.42" y="45.40" font-family="Liberation Serif, serif" font-size="10.5" fill="#000" textLength="6.61" lengthAdjust="spacingAndGlyphs" stroke="#000" stroke-width="0.25">2</text>
<text x="461.30" y="48.60" font-family="Liberation Serif, serif" font-size="17.5" fill="#000" textLength="76.06" lengthAdjust="spacingAndGlyphs" >/N=4.57</text>
<text x="219.10" y="69.20" font-family="Liberation Serif, serif" font-size="17.5" fill="#000" textLength="10.18" lengthAdjust="spacingAndGlyphs" >T</text>
<text x="229.19" y="74.40" font-family="Liberation Serif, serif" font-size="10.5" font-weight="bold" fill="#000" textLength="5.31" lengthAdjust="spacingAndGlyphs" >c</text>
<text x="236.34" y="69.20" font-family="Liberation Serif, serif" font-size="17.5" fill="#000" textLength="36.58" lengthAdjust="spacingAndGlyphs" >=45</text>
<text x="276.80" y="69.20" font-family="Liberation Serif, serif" font-size="17.5" fill="#000" textLength="17.01" lengthAdjust="spacingAndGlyphs" >K,</text>
<text x="304.04" y="69.20" font-family="Liberation Serif, serif" font-size="17.5" fill="#000" textLength="17.11" lengthAdjust="spacingAndGlyphs" >m</text>
<text x="321.50" y="74.40" font-family="Liberation Serif, serif" font-size="10.5" font-weight="bold" fill="#000" textLength="6.46" lengthAdjust="spacingAndGlyphs" >c</text>
<text x="328.87" y="69.20" font-family="Liberation Serif, serif" font-size="17.5" fill="#000" textLength="47.00" lengthAdjust="spacingAndGlyphs" >=950</text>
<text x="381.23" y="69.20" font-family="Liberation Serif, serif" font-size="17.5" fill="#000" textLength="17.32" lengthAdjust="spacingAndGlyphs" >m</text>
<circle cx="403.8" cy="70.5" r="3.1" fill="none" stroke="#000" stroke-width="1.15"/><circle cx="403.8" cy="70.5" r="1.0" fill="#000"/>
<text x="218.99" y="89.90" font-family="Liberation Serif, serif" font-size="17.5" fill="#000" textLength="10.39" lengthAdjust="spacingAndGlyphs" >T</text>
<circle cx="231.6" cy="89.40" r="1.75" fill="#000"/>
<text x="233.32" y="89.90" font-family="Liberation Serif, serif" font-size="17.5" fill="#000" textLength="60.89" lengthAdjust="spacingAndGlyphs" >=3600</text>
<text x="298.18" y="89.90" font-family="Liberation Serif, serif" font-size="17.5" fill="#000" textLength="17.67" lengthAdjust="spacingAndGlyphs" >K,</text>
<text x="324.85" y="89.90" font-family="Liberation Serif, serif" font-size="17.5" fill="#000" textLength="11.27" lengthAdjust="spacingAndGlyphs" >A</text>
<circle cx="338.7" cy="89.40" r="1.75" fill="#000"/>
<text x="342.21" y="89.90" font-family="Liberation Serif, serif" font-size="17.5" fill="#000" textLength="84.62" lengthAdjust="spacingAndGlyphs" >=1.96×10</text>
<text x="426.18" y="84.70" font-family="Liberation Serif, serif" font-size="10.5" fill="#000" textLength="17.17" lengthAdjust="spacingAndGlyphs" stroke="#000" stroke-width="0.25">32</text>
<text x="447.83" y="89.90" font-family="Liberation Serif, serif" font-size="17.5" fill="#000" textLength="27.82" lengthAdjust="spacingAndGlyphs" >cm</text>
<text x="476.04" y="85.40" font-family="Liberation Serif, serif" font-size="10.5" fill="#000" textLength="7.48" lengthAdjust="spacingAndGlyphs" stroke="#000" stroke-width="0.25">2</text>
<text x="106.40" y="332.50" font-family="Liberation Serif, serif" font-size="17.5" fill="#000" textLength="15.41" lengthAdjust="spacingAndGlyphs" >b:</text>
<text x="129.96" y="332.50" font-family="Liberation Serif, serif" font-size="17.5" fill="#000" textLength="72.99" lengthAdjust="spacingAndGlyphs" >‘‘astro’’</text>
<text x="211.00" y="332.50" font-family="Liberation Serif, serif" font-size="17.5" fill="#000" textLength="26.25" lengthAdjust="spacingAndGlyphs" >sil.</text>
<text x="243.82" y="332.50" font-family="Liberation Serif, serif" font-size="17.5" fill="#000" textLength="12.24" lengthAdjust="spacingAndGlyphs" >+</text>
<text x="262.46" y="332.50" font-family="Liberation Serif, serif" font-size="17.5" fill="#000" textLength="78.50" lengthAdjust="spacingAndGlyphs" >amorph.</text>
<text x="347.70" y="332.50" font-family="Liberation Serif, serif" font-size="17.5" fill="#000" textLength="64.36" lengthAdjust="spacingAndGlyphs" >carbon</text>
<text x="422.92" y="332.50" font-family="Liberation Serif, serif" font-size="17.5" fill="#000" textLength="64.23" lengthAdjust="spacingAndGlyphs" >porous</text>
<text x="496.33" y="332.50" font-family="Liberation Serif, serif" font-size="17.5" fill="#000" textLength="34.64" lengthAdjust="spacingAndGlyphs" >mix</text>
<text x="218.84" y="353.00" font-family="Liberation Serif, serif" font-size="17.5" fill="#000" textLength="60.11" lengthAdjust="spacingAndGlyphs" >P=0.5,</text>
<text x="288.40" y="353.00" font-family="Liberation Serif, serif" font-size="17.5" fill="#000" textLength="10.11" lengthAdjust="spacingAndGlyphs" >a</text>
<text x="304.54" y="353.00" font-family="Liberation Serif, serif" font-size="17.5" fill="#000" textLength="10.91" lengthAdjust="spacingAndGlyphs" >=</text>
<text x="322.19" y="353.00" font-family="Liberation Serif, serif" font-size="17.5" fill="#000" textLength="58.67" lengthAdjust="spacingAndGlyphs" >1.5<tspan font-style="italic">μ</tspan>m</text>
<text x="218.69" y="373.70" font-family="Liberation Serif, serif" font-size="17.5" fill="#000" textLength="10.60" lengthAdjust="spacingAndGlyphs" >T</text>
<text x="229.27" y="378.90" font-family="Liberation Serif, serif" font-size="10.5" font-weight="bold" fill="#000" textLength="7.79" lengthAdjust="spacingAndGlyphs" >w</text>
<text x="238.57" y="373.70" font-family="Liberation Serif, serif" font-size="17.5" fill="#000" textLength="47.02" lengthAdjust="spacingAndGlyphs" >=195</text>
<text x="290.20" y="373.70" font-family="Liberation Serif, serif" font-size="17.5" fill="#000" textLength="16.90" lengthAdjust="spacingAndGlyphs" >K,</text>
<text x="317.55" y="373.70" font-family="Liberation Serif, serif" font-size="17.5" fill="#000" textLength="16.79" lengthAdjust="spacingAndGlyphs" >m</text>
<text x="335.27" y="378.90" font-family="Liberation Serif, serif" font-size="10.5" font-weight="bold" fill="#000" textLength="8.09" lengthAdjust="spacingAndGlyphs" >w</text>
<text x="343.57" y="373.70" font-family="Liberation Serif, serif" font-size="17.5" fill="#000" textLength="52.31" lengthAdjust="spacingAndGlyphs" >=0.15</text>
<text x="401.87" y="373.70" font-family="Liberation Serif, serif" font-size="17.5" fill="#000" textLength="15.95" lengthAdjust="spacingAndGlyphs" >m</text>
<circle cx="423.6" cy="375.2" r="3.1" fill="none" stroke="#000" stroke-width="1.15"/><circle cx="423.6" cy="375.2" r="1.0" fill="#000"/>
<text x="428.61" y="373.70" font-family="Liberation Serif, serif" font-size="17.5" fill="#000" textLength="4.53" lengthAdjust="spacingAndGlyphs" >,</text>
<text x="443.32" y="373.70" font-family="Liberation Serif, serif" font-size="17.5" fill="#000" textLength="10.78" lengthAdjust="spacingAndGlyphs" ><tspan font-style="italic">χ</tspan></text>
<text x="453.42" y="370.50" font-family="Liberation Serif, serif" font-size="10.5" fill="#000" textLength="6.61" lengthAdjust="spacingAndGlyphs" stroke="#000" stroke-width="0.25">2</text>
<text x="461.30" y="373.70" font-family="Liberation Serif, serif" font-size="17.5" fill="#000" textLength="76.68" lengthAdjust="spacingAndGlyphs" >/N=5.32</text>
<text x="219.10" y="394.30" font-family="Liberation Serif, serif" font-size="17.5" fill="#000" textLength="10.18" lengthAdjust="spacingAndGlyphs" >T</text>
<text x="229.19" y="399.50" font-family="Liberation Serif, serif" font-size="10.5" font-weight="bold" fill="#000" textLength="5.31" lengthAdjust="spacingAndGlyphs" >c</text>
<text x="236.34" y="394.30" font-family="Liberation Serif, serif" font-size="17.5" fill="#000" textLength="36.58" lengthAdjust="spacingAndGlyphs" >=45</text>
<text x="276.80" y="394.30" font-family="Liberation Serif, serif" font-size="17.5" fill="#000" textLength="17.01" lengthAdjust="spacingAndGlyphs" >K,</text>
<text x="304.04" y="394.30" font-family="Liberation Serif, serif" font-size="17.5" fill="#000" textLength="17.11" lengthAdjust="spacingAndGlyphs" >m</text>
<text x="321.50" y="399.50" font-family="Liberation Serif, serif" font-size="10.5" font-weight="bold" fill="#000" textLength="6.46" lengthAdjust="spacingAndGlyphs" >c</text>
<text x="328.87" y="394.30" font-family="Liberation Serif, serif" font-size="17.5" fill="#000" textLength="47.00" lengthAdjust="spacingAndGlyphs" >=500</text>
<text x="381.23" y="394.30" font-family="Liberation Serif, serif" font-size="17.5" fill="#000" textLength="17.32" lengthAdjust="spacingAndGlyphs" >m</text>
<circle cx="403.8" cy="395.6" r="3.1" fill="none" stroke="#000" stroke-width="1.15"/><circle cx="403.8" cy="395.6" r="1.0" fill="#000"/>
<text x="218.99" y="415.00" font-family="Liberation Serif, serif" font-size="17.5" fill="#000" textLength="10.39" lengthAdjust="spacingAndGlyphs" >T</text>
<circle cx="231.6" cy="414.50" r="1.75" fill="#000"/>
<text x="233.32" y="415.00" font-family="Liberation Serif, serif" font-size="17.5" fill="#000" textLength="60.89" lengthAdjust="spacingAndGlyphs" >=3600</text>
<text x="298.18" y="415.00" font-family="Liberation Serif, serif" font-size="17.5" fill="#000" textLength="17.67" lengthAdjust="spacingAndGlyphs" >K,</text>
<text x="324.85" y="415.00" font-family="Liberation Serif, serif" font-size="17.5" fill="#000" textLength="11.27" lengthAdjust="spacingAndGlyphs" >A</text>
<circle cx="338.7" cy="414.50" r="1.75" fill="#000"/>
<text x="342.21" y="415.00" font-family="Liberation Serif, serif" font-size="17.5" fill="#000" textLength="84.62" lengthAdjust="spacingAndGlyphs" >=1.96×10</text>
<text x="426.18" y="409.80" font-family="Liberation Serif, serif" font-size="10.5" fill="#000" textLength="17.17" lengthAdjust="spacingAndGlyphs" stroke="#000" stroke-width="0.25">32</text>
<text x="447.83" y="415.00" font-family="Liberation Serif, serif" font-size="17.5" fill="#000" textLength="27.82" lengthAdjust="spacingAndGlyphs" >cm</text>
<text x="476.04" y="410.50" font-family="Liberation Serif, serif" font-size="10.5" fill="#000" textLength="7.48" lengthAdjust="spacingAndGlyphs" stroke="#000" stroke-width="0.25">2</text>
<text transform="translate(160.60,82.40) rotate(-90)" x="-1.29" y="0" font-family="Liberation Sans, sans-serif" font-size="14" fill="#1c1cc8" stroke="#1c1cc8" stroke-width="0.35" textLength="56.70" lengthAdjust="spacingAndGlyphs">10.5<tspan font-style="italic">μ</tspan>m</text>
<text transform="translate(178.20,66.30) rotate(-90)" x="-1.25" y="0" font-family="Liberation Sans, sans-serif" font-size="15" fill="#e81ee8" stroke="#e81ee8" stroke-width="0.35" textLength="31.29" lengthAdjust="spacingAndGlyphs">PAH</text>
<text transform="translate(202.30,105.50) rotate(-90)" x="-1.26" y="0" font-family="Liberation Sans, sans-serif" font-size="15" fill="#e81ee8" stroke="#e81ee8" stroke-width="0.35" textLength="42.11" lengthAdjust="spacingAndGlyphs">[Ne<tspan font-family="Liberation Serif, serif">II</tspan>]</text>
<text transform="translate(253.50,165.30) rotate(-90)" x="-1.22" y="0" font-family="Liberation Sans, sans-serif" font-size="15" fill="#e81ee8" stroke="#e81ee8" stroke-width="0.35" textLength="45.64" lengthAdjust="spacingAndGlyphs">[Ne<tspan font-family="Liberation Serif, serif">III</tspan>]</text>
<text transform="translate(278.50,151.80) rotate(-90)" x="-1.28" y="0" font-family="Liberation Sans, sans-serif" font-size="14" fill="#1c1cc8" stroke="#1c1cc8" stroke-width="0.35" textLength="56.39" lengthAdjust="spacingAndGlyphs">17.2<tspan font-style="italic">μ</tspan>m</text>
<text transform="translate(307.50,173.60) rotate(-90)" x="-1.26" y="0" font-family="Liberation Sans, sans-serif" font-size="15" fill="#e81ee8" stroke="#e81ee8" stroke-width="0.35" textLength="36.32" lengthAdjust="spacingAndGlyphs">[S<tspan font-family="Liberation Serif, serif">III</tspan>]</text>
<path d="M157.2,87.5V115.5M274.5,153.5V171.8" stroke="#1c1cc8" stroke-width="1.6"/>
<text transform="translate(107.90,175.10) rotate(62.6)" x="0" y="4.29" text-anchor="middle" font-family="Liberation Mono, monospace" font-size="16.5" fill="#22dd22" stroke="#22dd22" stroke-width="0.3" textLength="49.4" lengthAdjust="spacingAndGlyphs">stars</text>
<text transform="translate(121.50,237.70) rotate(-62.4)" x="0" y="4.29" text-anchor="middle" font-family="Liberation Mono, monospace" font-size="16.5" fill="#1c1cc8" stroke="#1c1cc8" stroke-width="0.3" textLength="52" lengthAdjust="spacingAndGlyphs">warm</text>
<text transform="translate(139.00,252.00) rotate(-61.8)" x="0" y="4.29" text-anchor="middle" font-family="Liberation Mono, monospace" font-size="16.5" fill="#1c1cc8" stroke="#1c1cc8" stroke-width="0.3" textLength="42" lengthAdjust="spacingAndGlyphs">dust</text>
<text transform="translate(107.90,479.10) rotate(62.6)" x="0" y="4.29" text-anchor="middle" font-family="Liberation Mono, monospace" font-size="16.5" fill="#22dd22" stroke="#22dd22" stroke-width="0.3" textLength="49.4" lengthAdjust="spacingAndGlyphs">stars</text>
<text transform="translate(121.50,541.70) rotate(-62.4)" x="0" y="4.29" text-anchor="middle" font-family="Liberation Mono, monospace" font-size="16.5" fill="#1c1cc8" stroke="#1c1cc8" stroke-width="0.3" textLength="52" lengthAdjust="spacingAndGlyphs">warm</text>
<text transform="translate(139.00,556.00) rotate(-61.8)" x="0" y="4.29" text-anchor="middle" font-family="Liberation Mono, monospace" font-size="16.5" fill="#1c1cc8" stroke="#1c1cc8" stroke-width="0.3" textLength="42" lengthAdjust="spacingAndGlyphs">dust</text>
<text transform="translate(533.90,241.20) rotate(-18.6)" x="0" y="4.14" text-anchor="middle" font-family="Liberation Serif, serif" font-size="18" fill="#12e2e8" stroke="#12e2e8" stroke-width="0" textLength="89" lengthAdjust="spacingAndGlyphs">cold dust</text>
<text transform="translate(534.20,559.30) rotate(-17.3)" x="0" y="4.14" text-anchor="middle" font-family="Liberation Serif, serif" font-size="18" fill="#12e2e8" stroke="#12e2e8" stroke-width="0" textLength="89" lengthAdjust="spacingAndGlyphs">cold dust</text>
</svg></body></html>
